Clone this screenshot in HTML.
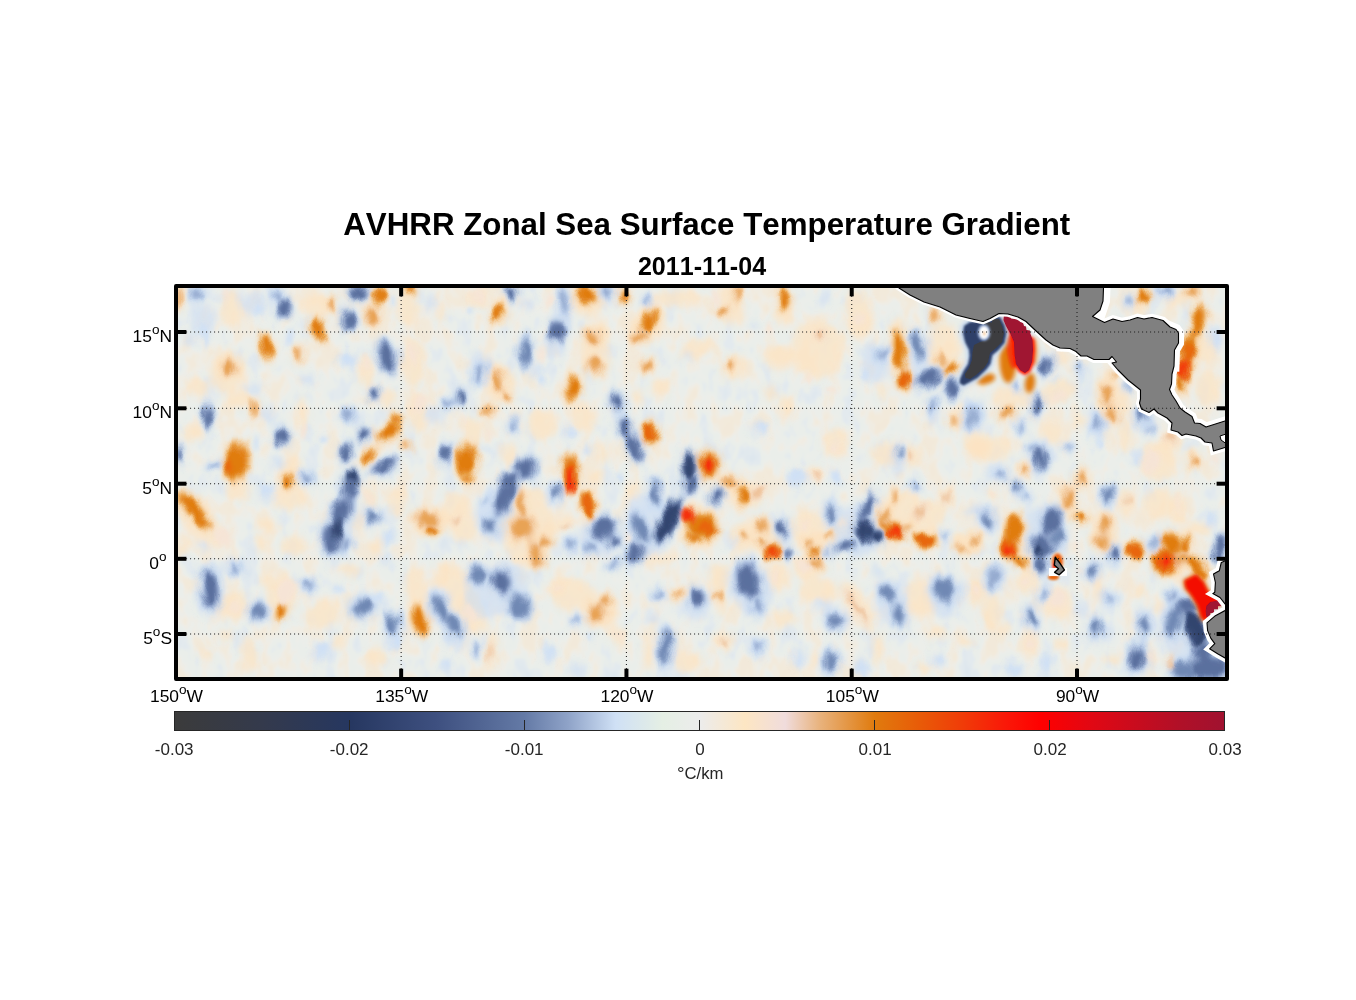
<!DOCTYPE html>
<html lang="en"><head><meta charset="utf-8"><title>AVHRR Zonal Sea Surface Temperature Gradient</title>
<style>html,body{margin:0;padding:0;background:#fff}body{width:1356px;height:1000px;overflow:hidden;font-family:"Liberation Sans",Arial,sans-serif}svg{display:block}text{font-family:"Liberation Sans",Arial,sans-serif;font-kerning:none}</style>
</head><body>
<svg width="1356" height="1000" viewBox="0 0 1356 1000">
<defs>
<clipPath id="ax"><rect x="178" y="288" width="1047" height="389"/></clipPath>
<filter id="b0_6" x="-50%" y="-50%" width="200%" height="200%"><feGaussianBlur stdDeviation="0.6"/></filter>
<filter id="b1" x="-50%" y="-50%" width="200%" height="200%"><feGaussianBlur stdDeviation="1"/></filter>
<filter id="b1_5" x="-50%" y="-50%" width="200%" height="200%"><feGaussianBlur stdDeviation="1.5"/></filter>
<filter id="b2" x="-50%" y="-50%" width="200%" height="200%"><feGaussianBlur stdDeviation="2"/></filter>
<filter id="b2_5" x="-50%" y="-50%" width="200%" height="200%"><feGaussianBlur stdDeviation="2.5"/></filter>
<filter id="b3" x="-50%" y="-50%" width="200%" height="200%"><feGaussianBlur stdDeviation="3"/></filter>
<filter id="b4" x="-50%" y="-50%" width="200%" height="200%"><feGaussianBlur stdDeviation="4"/></filter>
<filter id="b6" x="-50%" y="-50%" width="200%" height="200%"><feGaussianBlur stdDeviation="6"/></filter>
<filter id="b8" x="-50%" y="-50%" width="200%" height="200%"><feGaussianBlur stdDeviation="8"/></filter>
<filter id="warp" filterUnits="userSpaceOnUse" x="170" y="280" width="1064" height="404"><feTurbulence type="fractalNoise" baseFrequency="0.075 0.045" numOctaves="2" seed="7" result="n"/><feDisplacementMap in="SourceGraphic" in2="n" scale="11" xChannelSelector="R" yChannelSelector="G"/></filter>
<filter id="tex" filterUnits="userSpaceOnUse" x="170" y="280" width="1064" height="404" color-interpolation-filters="sRGB"><feTurbulence type="fractalNoise" baseFrequency="0.05 0.032" numOctaves="3" seed="11"/><feColorMatrix type="matrix" values="1 0 0 0 0  1 0 0 0 0  1 0 0 0 0  0 0 0 0 1"/><feComponentTransfer><feFuncR type="table" tableValues="0.78 0.78 0.81 0.85 0.905 0.925 0.975 0.992 0.992 0.992 0.992"/><feFuncG type="table" tableValues="0.86 0.86 0.88 0.905 0.935 0.937 0.925 0.90 0.89 0.89 0.89"/><feFuncB type="table" tableValues="0.95 0.95 0.96 0.955 0.92 0.92 0.85 0.77 0.75 0.75 0.75"/></feComponentTransfer></filter>
<linearGradient id="cb" x1="0" y1="0" x2="1" y2="0">
<stop offset="0.0000" stop-color="#3b3b3b"/>
<stop offset="0.0833" stop-color="#343a4c"/>
<stop offset="0.1667" stop-color="#263760"/>
<stop offset="0.2500" stop-color="#3e5080"/>
<stop offset="0.3333" stop-color="#647aa6"/>
<stop offset="0.3750" stop-color="#8fa3c8"/>
<stop offset="0.4200" stop-color="#cfe0f5"/>
<stop offset="0.4650" stop-color="#e5efe4"/>
<stop offset="0.5000" stop-color="#ececec"/>
<stop offset="0.5433" stop-color="#fde6c3"/>
<stop offset="0.5817" stop-color="#f0dcdc"/>
<stop offset="0.6150" stop-color="#e8b27c"/>
<stop offset="0.6667" stop-color="#e07b0e"/>
<stop offset="0.7083" stop-color="#e85c08"/>
<stop offset="0.7500" stop-color="#f03c08"/>
<stop offset="0.7917" stop-color="#fa1808"/>
<stop offset="0.8250" stop-color="#ff0000"/>
<stop offset="0.8750" stop-color="#e00814"/>
<stop offset="0.9167" stop-color="#c80c1e"/>
<stop offset="0.9583" stop-color="#b01028"/>
<stop offset="1.0000" stop-color="#a01230"/>
</linearGradient>
</defs>
<rect width="1356" height="1000" fill="#fff"/>
<g clip-path="url(#ax)">
<rect x="178" y="288" width="1047" height="389" fill="#eceeeb"/>
<rect x="170" y="280" width="1064" height="404" filter="url(#tex)" opacity="0.38"/>
<g filter="url(#warp)">
<g filter="url(#b3)">
<ellipse cx="232.0" cy="308.0" rx="12.0" ry="18.0" fill="#fde3bf" opacity="0.68"/>
<ellipse cx="318.0" cy="306.0" rx="16.0" ry="12.0" fill="#fde3bf" opacity="0.68"/>
<ellipse cx="228.0" cy="372.0" rx="18.0" ry="22.0" fill="#fde3bf" opacity="0.68"/>
<ellipse cx="198.0" cy="388.0" rx="12.0" ry="10.0" fill="#fde3bf" opacity="0.68"/>
<ellipse cx="238.0" cy="400.0" rx="12.0" ry="8.0" fill="#fde3bf" opacity="0.68"/>
<ellipse cx="414.0" cy="364.0" rx="12.0" ry="24.0" fill="#fde3bf" opacity="0.68"/>
<ellipse cx="418.0" cy="412.0" rx="10.0" ry="20.0" fill="#fde3bf" opacity="0.68"/>
<ellipse cx="302.0" cy="416.0" rx="6.0" ry="16.0" fill="#fde3bf" opacity="0.68"/>
<ellipse cx="366.0" cy="372.0" rx="8.0" ry="16.0" fill="#fde3bf" opacity="0.68"/>
<ellipse cx="290.0" cy="468.0" rx="10.0" ry="14.0" fill="#fde3bf" opacity="0.68"/>
<ellipse cx="192.0" cy="434.0" rx="10.0" ry="8.0" fill="#fde3bf" opacity="0.68"/>
<ellipse cx="388.0" cy="400.0" rx="8.0" ry="8.0" fill="#fde3bf" opacity="0.68"/>
<ellipse cx="408.0" cy="308.0" rx="10.0" ry="20.0" fill="#fde3bf" opacity="0.68"/>
<ellipse cx="442.0" cy="312.0" rx="4.0" ry="10.0" fill="#fde3bf" opacity="0.68"/>
<ellipse cx="204.0" cy="320.0" rx="12.0" ry="16.0" fill="#cbddf3" opacity="0.62"/>
<ellipse cx="254.0" cy="304.0" rx="14.0" ry="12.0" fill="#cbddf3" opacity="0.62"/>
<ellipse cx="348.0" cy="360.0" rx="10.0" ry="8.0" fill="#cbddf3" opacity="0.62"/>
<ellipse cx="308.0" cy="380.0" rx="8.0" ry="6.0" fill="#cbddf3" opacity="0.62"/>
<ellipse cx="268.0" cy="414.0" rx="8.0" ry="8.0" fill="#cbddf3" opacity="0.62"/>
<ellipse cx="434.0" cy="416.0" rx="8.0" ry="8.0" fill="#cbddf3" opacity="0.62"/>
<ellipse cx="254.0" cy="388.0" rx="8.0" ry="5.0" fill="#cbddf3" opacity="0.62"/>
<ellipse cx="278.0" cy="464.0" rx="8.0" ry="6.0" fill="#cbddf3" opacity="0.62"/>
<ellipse cx="190.0" cy="338.0" rx="6.0" ry="8.0" fill="#cbddf3" opacity="0.62"/>
<ellipse cx="430.0" cy="304.0" rx="6.0" ry="8.0" fill="#cbddf3" opacity="0.62"/>
<ellipse cx="379.6" cy="296.0" rx="9.1" ry="12.5" fill="#fbdcb4" transform="rotate(15 379.6 296.0)" opacity="0.9"/>
<ellipse cx="372.0" cy="316.0" rx="11.1" ry="11.5" fill="#fbdcb4" opacity="0.9"/>
<ellipse cx="317.4" cy="329.0" rx="9.5" ry="14.5" fill="#fbdcb4" transform="rotate(-5 317.4 329.0)" opacity="0.9"/>
<ellipse cx="267.0" cy="346.0" rx="8.5" ry="15.5" fill="#fbdcb4" transform="rotate(-5 267.0 346.0)" opacity="0.9"/>
<ellipse cx="298.6" cy="352.0" rx="6.5" ry="11.5" fill="#fbdcb4" transform="rotate(5 298.6 352.0)" opacity="0.9"/>
<ellipse cx="229.0" cy="368.0" rx="11.1" ry="12.5" fill="#fbdcb4" opacity="0.9"/>
<ellipse cx="254.0" cy="408.0" rx="6.3" ry="12.5" fill="#fbdcb4" opacity="0.9"/>
<ellipse cx="236.0" cy="462.0" rx="16.5" ry="22.5" fill="#fbdcb4" transform="rotate(10 236.0 462.0)" opacity="0.9"/>
<ellipse cx="229.0" cy="466.0" rx="8.5" ry="9.5" fill="#fbdcb4" opacity="0.9"/>
<ellipse cx="388.0" cy="432.0" rx="16.5" ry="10.5" fill="#fbdcb4" transform="rotate(-25 388.0 432.0)" opacity="0.9"/>
<ellipse cx="397.0" cy="420.0" rx="6.5" ry="11.5" fill="#fbdcb4" transform="rotate(10 397.0 420.0)" opacity="0.9"/>
<ellipse cx="370.0" cy="455.0" rx="13.5" ry="7.1" fill="#fbdcb4" transform="rotate(-45 370.0 455.0)" opacity="0.9"/>
<ellipse cx="406.0" cy="445.0" rx="8.5" ry="5.5" fill="#fbdcb4" transform="rotate(15 406.0 445.0)" opacity="0.9"/>
<ellipse cx="289.0" cy="480.0" rx="8.5" ry="10.5" fill="#fbdcb4" transform="rotate(20 289.0 480.0)" opacity="0.9"/>
<ellipse cx="410.0" cy="289.0" rx="9.5" ry="6.5" fill="#fbdcb4" opacity="0.9"/>
<ellipse cx="333.0" cy="304.0" rx="6.5" ry="11.5" fill="#fbdcb4" transform="rotate(5 333.0 304.0)" opacity="0.9"/>
<ellipse cx="179.0" cy="298.0" rx="5.9" ry="11.5" fill="#fbdcb4" opacity="0.9"/>
<ellipse cx="196.0" cy="294.0" rx="8.5" ry="9.5" fill="#c4d8f1" opacity="0.9"/>
<ellipse cx="284.0" cy="308.0" rx="10.5" ry="12.5" fill="#c4d8f1" transform="rotate(10 284.0 308.0)" opacity="0.9"/>
<ellipse cx="278.0" cy="296.0" rx="7.1" ry="9.5" fill="#c4d8f1" transform="rotate(-20 278.0 296.0)" opacity="0.9"/>
<ellipse cx="359.0" cy="293.0" rx="13.5" ry="10.5" fill="#c4d8f1" opacity="0.9"/>
<ellipse cx="348.0" cy="320.0" rx="9.5" ry="13.5" fill="#c4d8f1" opacity="0.9"/>
<ellipse cx="387.0" cy="356.0" rx="12.5" ry="19.5" fill="#c4d8f1" transform="rotate(-15 387.0 356.0)" opacity="0.9"/>
<ellipse cx="374.0" cy="393.0" rx="7.5" ry="9.5" fill="#c4d8f1" transform="rotate(10 374.0 393.0)" opacity="0.9"/>
<ellipse cx="208.0" cy="417.0" rx="7.5" ry="17.5" fill="#c4d8f1" transform="rotate(-5 208.0 417.0)" opacity="0.9"/>
<ellipse cx="281.0" cy="437.0" rx="10.5" ry="11.5" fill="#c4d8f1" transform="rotate(-20 281.0 437.0)" opacity="0.9"/>
<ellipse cx="363.0" cy="435.0" rx="9.1" ry="10.5" fill="#c4d8f1" transform="rotate(20 363.0 435.0)" opacity="0.9"/>
<ellipse cx="346.0" cy="452.0" rx="9.1" ry="12.5" fill="#c4d8f1" opacity="0.9"/>
<ellipse cx="384.0" cy="466.0" rx="17.5" ry="8.5" fill="#c4d8f1" transform="rotate(-30 384.0 466.0)" opacity="0.9"/>
<ellipse cx="352.0" cy="480.0" rx="11.5" ry="12.5" fill="#c4d8f1" opacity="0.9"/>
<ellipse cx="349.0" cy="416.0" rx="9.5" ry="9.5" fill="#c4d8f1" opacity="0.9"/>
<ellipse cx="308.0" cy="477.0" rx="9.5" ry="7.5" fill="#c4d8f1" opacity="0.9"/>
<ellipse cx="445.0" cy="454.0" rx="7.5" ry="13.5" fill="#c4d8f1" opacity="0.9"/>
<ellipse cx="214.0" cy="466.0" rx="6.5" ry="6.5" fill="#c4d8f1" opacity="0.9"/>
<ellipse cx="179.0" cy="454.0" rx="5.9" ry="12.5" fill="#c4d8f1" opacity="0.9"/>
<ellipse cx="446.0" cy="404.0" rx="6.5" ry="7.5" fill="#c4d8f1" opacity="0.9"/>
<ellipse cx="500.0" cy="312.0" rx="11.0" ry="14.0" fill="#fde3bf" opacity="0.68"/>
<ellipse cx="478.0" cy="298.0" rx="10.0" ry="10.0" fill="#fde3bf" opacity="0.68"/>
<ellipse cx="588.0" cy="300.0" rx="18.0" ry="16.0" fill="#fde3bf" opacity="0.68"/>
<ellipse cx="648.0" cy="324.0" rx="16.0" ry="22.0" fill="#fde3bf" transform="rotate(30 648.0 324.0)" opacity="0.68"/>
<ellipse cx="678.0" cy="298.0" rx="24.0" ry="8.0" fill="#fde3bf" opacity="0.68"/>
<ellipse cx="698.0" cy="348.0" rx="20.0" ry="8.0" fill="#fde3bf" transform="rotate(-20 698.0 348.0)" opacity="0.68"/>
<ellipse cx="594.0" cy="348.0" rx="16.0" ry="28.0" fill="#fde3bf" opacity="0.68"/>
<ellipse cx="500.0" cy="384.0" rx="14.0" ry="22.0" fill="#fde3bf" transform="rotate(-20 500.0 384.0)" opacity="0.68"/>
<ellipse cx="542.0" cy="424.0" rx="16.0" ry="14.0" fill="#fde3bf" transform="rotate(-30 542.0 424.0)" opacity="0.68"/>
<ellipse cx="584.0" cy="418.0" rx="12.0" ry="16.0" fill="#fde3bf" opacity="0.68"/>
<ellipse cx="660.0" cy="388.0" rx="8.0" ry="10.0" fill="#fde3bf" opacity="0.68"/>
<ellipse cx="638.0" cy="396.0" rx="6.0" ry="8.0" fill="#fde3bf" opacity="0.68"/>
<ellipse cx="472.0" cy="432.0" rx="10.0" ry="16.0" fill="#fde3bf" opacity="0.68"/>
<ellipse cx="604.0" cy="454.0" rx="6.0" ry="12.0" fill="#fde3bf" opacity="0.68"/>
<ellipse cx="508.0" cy="454.0" rx="8.0" ry="10.0" fill="#fde3bf" opacity="0.68"/>
<ellipse cx="650.0" cy="432.0" rx="10.0" ry="14.0" fill="#fde3bf" opacity="0.68"/>
<ellipse cx="596.0" cy="476.0" rx="8.0" ry="8.0" fill="#fde3bf" opacity="0.68"/>
<ellipse cx="528.0" cy="304.0" rx="8.0" ry="6.0" fill="#cbddf3" opacity="0.62"/>
<ellipse cx="480.0" cy="368.0" rx="12.0" ry="16.0" fill="#cbddf3" opacity="0.62"/>
<ellipse cx="564.0" cy="314.0" rx="8.0" ry="20.0" fill="#cbddf3" opacity="0.62"/>
<ellipse cx="554.0" cy="344.0" rx="10.0" ry="16.0" fill="#cbddf3" opacity="0.62"/>
<ellipse cx="648.0" cy="300.0" rx="6.0" ry="6.0" fill="#cbddf3" opacity="0.62"/>
<ellipse cx="536.0" cy="372.0" rx="6.0" ry="8.0" fill="#cbddf3" opacity="0.62"/>
<ellipse cx="618.0" cy="408.0" rx="8.0" ry="12.0" fill="#cbddf3" opacity="0.62"/>
<ellipse cx="568.0" cy="432.0" rx="6.0" ry="6.0" fill="#cbddf3" opacity="0.62"/>
<ellipse cx="688.0" cy="356.0" rx="4.0" ry="4.0" fill="#cbddf3" opacity="0.62"/>
<ellipse cx="498.0" cy="313.0" rx="9.1" ry="11.5" fill="#fbdcb4" opacity="0.9"/>
<ellipse cx="586.0" cy="295.0" rx="12.5" ry="13.5" fill="#fbdcb4" transform="rotate(20 586.0 295.0)" opacity="0.9"/>
<ellipse cx="623.0" cy="296.0" rx="7.5" ry="10.5" fill="#fbdcb4" opacity="0.9"/>
<ellipse cx="649.0" cy="321.0" rx="9.5" ry="15.5" fill="#fbdcb4" transform="rotate(25 649.0 321.0)" opacity="0.9"/>
<ellipse cx="638.0" cy="337.0" rx="11.5" ry="7.5" fill="#fbdcb4" transform="rotate(-20 638.0 337.0)" opacity="0.9"/>
<ellipse cx="592.0" cy="337.0" rx="10.5" ry="11.5" fill="#fbdcb4" transform="rotate(-30 592.0 337.0)" opacity="0.9"/>
<ellipse cx="595.0" cy="366.0" rx="11.5" ry="11.5" fill="#fbdcb4" opacity="0.9"/>
<ellipse cx="648.0" cy="365.0" rx="10.5" ry="8.5" fill="#fbdcb4" transform="rotate(-30 648.0 365.0)" opacity="0.9"/>
<ellipse cx="573.0" cy="388.0" rx="10.5" ry="16.5" fill="#fbdcb4" transform="rotate(10 573.0 388.0)" opacity="0.9"/>
<ellipse cx="498.0" cy="380.0" rx="8.5" ry="13.5" fill="#fbdcb4" transform="rotate(-20 498.0 380.0)" opacity="0.9"/>
<ellipse cx="506.0" cy="396.0" rx="7.5" ry="8.5" fill="#fbdcb4" opacity="0.9"/>
<ellipse cx="488.0" cy="410.0" rx="8.5" ry="7.5" fill="#fbdcb4" opacity="0.9"/>
<ellipse cx="650.4" cy="433.0" rx="10.5" ry="13.5" fill="#fbdcb4" opacity="0.9"/>
<ellipse cx="467.0" cy="460.0" rx="13.1" ry="20.5" fill="#fbdcb4" transform="rotate(5 467.0 460.0)" opacity="0.9"/>
<ellipse cx="571.0" cy="474.0" rx="11.9" ry="22.5" fill="#fbdcb4" opacity="0.9"/>
<ellipse cx="571.0" cy="478.0" rx="8.7" ry="20.5" fill="#fbdcb4" opacity="0.9"/>
<ellipse cx="709.0" cy="464.0" rx="13.1" ry="17.9" fill="#fbdcb4" opacity="0.9"/>
<ellipse cx="709.0" cy="464.0" rx="9.9" ry="13.9" fill="#fbdcb4" opacity="0.9"/>
<ellipse cx="511.0" cy="292.0" rx="9.1" ry="9.5" fill="#c4d8f1" opacity="0.9"/>
<ellipse cx="564.0" cy="300.0" rx="7.1" ry="17.5" fill="#c4d8f1" transform="rotate(-5 564.0 300.0)" opacity="0.9"/>
<ellipse cx="557.0" cy="331.0" rx="11.5" ry="14.5" fill="#c4d8f1" opacity="0.9"/>
<ellipse cx="606.0" cy="292.0" rx="8.5" ry="9.5" fill="#c4d8f1" opacity="0.9"/>
<ellipse cx="525.0" cy="352.0" rx="9.1" ry="18.5" fill="#c4d8f1" transform="rotate(5 525.0 352.0)" opacity="0.9"/>
<ellipse cx="479.0" cy="373.0" rx="7.5" ry="14.5" fill="#c4d8f1" transform="rotate(20 479.0 373.0)" opacity="0.9"/>
<ellipse cx="461.0" cy="399.0" rx="7.5" ry="11.5" fill="#c4d8f1" opacity="0.9"/>
<ellipse cx="451.0" cy="403.0" rx="6.5" ry="6.5" fill="#c4d8f1" opacity="0.9"/>
<ellipse cx="616.6" cy="400.0" rx="9.1" ry="11.5" fill="#c4d8f1" opacity="0.9"/>
<ellipse cx="514.0" cy="426.0" rx="6.5" ry="9.5" fill="#c4d8f1" opacity="0.9"/>
<ellipse cx="525.0" cy="467.0" rx="13.5" ry="13.5" fill="#c4d8f1" transform="rotate(-20 525.0 467.0)" opacity="0.9"/>
<ellipse cx="510.0" cy="480.0" rx="13.5" ry="8.5" fill="#c4d8f1" transform="rotate(-25 510.0 480.0)" opacity="0.9"/>
<ellipse cx="625.0" cy="428.0" rx="9.1" ry="15.5" fill="#c4d8f1" transform="rotate(-10 625.0 428.0)" opacity="0.9"/>
<ellipse cx="634.0" cy="448.0" rx="10.5" ry="17.5" fill="#c4d8f1" transform="rotate(-15 634.0 448.0)" opacity="0.9"/>
<ellipse cx="689.0" cy="466.0" rx="9.9" ry="18.5" fill="#c4d8f1" transform="rotate(-5 689.0 466.0)" opacity="0.9"/>
<ellipse cx="693.0" cy="482.0" rx="9.5" ry="9.5" fill="#c4d8f1" opacity="0.9"/>
<ellipse cx="647.0" cy="300.0" rx="6.5" ry="6.5" fill="#c4d8f1" opacity="0.9"/>
<ellipse cx="449.0" cy="452.0" rx="5.9" ry="9.5" fill="#c4d8f1" opacity="0.9"/>
<ellipse cx="656.0" cy="483.0" rx="7.5" ry="6.5" fill="#c4d8f1" opacity="0.9"/>
<ellipse cx="730.0" cy="304.0" rx="14.0" ry="22.0" fill="#fde3bf" opacity="0.68"/>
<ellipse cx="784.0" cy="306.0" rx="10.0" ry="20.0" fill="#fde3bf" opacity="0.68"/>
<ellipse cx="858.0" cy="314.0" rx="14.0" ry="26.0" fill="#fde3bf" opacity="0.68"/>
<ellipse cx="818.0" cy="348.0" rx="26.0" ry="30.0" fill="#fde3bf" opacity="0.68"/>
<ellipse cx="734.0" cy="368.0" rx="12.0" ry="14.0" fill="#fde3bf" opacity="0.68"/>
<ellipse cx="778.0" cy="358.0" rx="16.0" ry="12.0" fill="#fde3bf" opacity="0.68"/>
<ellipse cx="898.0" cy="348.0" rx="10.0" ry="32.0" fill="#fde3bf" opacity="0.68"/>
<ellipse cx="944.0" cy="348.0" rx="16.0" ry="26.0" fill="#fde3bf" opacity="0.68"/>
<ellipse cx="786.0" cy="408.0" rx="8.0" ry="12.0" fill="#fde3bf" opacity="0.68"/>
<ellipse cx="836.0" cy="444.0" rx="12.0" ry="14.0" fill="#fde3bf" opacity="0.68"/>
<ellipse cx="888.0" cy="454.0" rx="16.0" ry="12.0" fill="#fde3bf" opacity="0.68"/>
<ellipse cx="914.0" cy="456.0" rx="10.0" ry="12.0" fill="#fde3bf" opacity="0.68"/>
<ellipse cx="958.0" cy="418.0" rx="8.0" ry="14.0" fill="#fde3bf" opacity="0.68"/>
<ellipse cx="978.0" cy="444.0" rx="12.0" ry="16.0" fill="#fde3bf" opacity="0.68"/>
<ellipse cx="814.0" cy="474.0" rx="8.0" ry="8.0" fill="#fde3bf" opacity="0.68"/>
<ellipse cx="772.0" cy="392.0" rx="6.0" ry="8.0" fill="#fde3bf" opacity="0.68"/>
<ellipse cx="882.0" cy="392.0" rx="4.0" ry="8.0" fill="#fde3bf" opacity="0.68"/>
<ellipse cx="874.0" cy="364.0" rx="14.0" ry="20.0" fill="#cbddf3" opacity="0.62"/>
<ellipse cx="918.0" cy="354.0" rx="10.0" ry="22.0" fill="#cbddf3" opacity="0.62"/>
<ellipse cx="934.0" cy="412.0" rx="8.0" ry="14.0" fill="#cbddf3" opacity="0.62"/>
<ellipse cx="970.0" cy="416.0" rx="8.0" ry="14.0" fill="#cbddf3" opacity="0.62"/>
<ellipse cx="898.0" cy="460.0" rx="6.0" ry="16.0" fill="#cbddf3" opacity="0.62"/>
<ellipse cx="798.0" cy="478.0" rx="10.0" ry="8.0" fill="#cbddf3" opacity="0.62"/>
<ellipse cx="758.0" cy="428.0" rx="8.0" ry="8.0" fill="#cbddf3" opacity="0.62"/>
<ellipse cx="824.0" cy="298.0" rx="4.0" ry="4.0" fill="#cbddf3" opacity="0.62"/>
<ellipse cx="754.0" cy="326.0" rx="4.0" ry="4.0" fill="#cbddf3" opacity="0.62"/>
<ellipse cx="784.0" cy="299.0" rx="7.9" ry="14.5" fill="#fbdcb4" transform="rotate(-5 784.0 299.0)" opacity="0.9"/>
<ellipse cx="736.0" cy="294.0" rx="6.5" ry="11.5" fill="#fbdcb4" transform="rotate(20 736.0 294.0)" opacity="0.9"/>
<ellipse cx="723.0" cy="312.0" rx="8.5" ry="8.5" fill="#fbdcb4" opacity="0.9"/>
<ellipse cx="731.0" cy="365.0" rx="7.5" ry="8.5" fill="#fbdcb4" opacity="0.9"/>
<ellipse cx="899.0" cy="350.0" rx="9.9" ry="23.5" fill="#fbdcb4" transform="rotate(-8 899.0 350.0)" opacity="0.9"/>
<ellipse cx="904.0" cy="380.0" rx="9.5" ry="13.1" fill="#fbdcb4" opacity="0.9"/>
<ellipse cx="935.0" cy="314.0" rx="7.1" ry="9.5" fill="#fbdcb4" transform="rotate(10 935.0 314.0)" opacity="0.9"/>
<ellipse cx="952.0" cy="369.0" rx="12.5" ry="7.1" fill="#fbdcb4" transform="rotate(-30 952.0 369.0)" opacity="0.9"/>
<ellipse cx="942.0" cy="360.0" rx="10.5" ry="5.9" fill="#fbdcb4" transform="rotate(40 942.0 360.0)" opacity="0.9"/>
<ellipse cx="954.0" cy="420.0" rx="5.9" ry="8.5" fill="#fbdcb4" opacity="0.9"/>
<ellipse cx="882.0" cy="354.0" rx="7.1" ry="10.5" fill="#c4d8f1" transform="rotate(25 882.0 354.0)" opacity="0.9"/>
<ellipse cx="918.0" cy="346.0" rx="8.5" ry="17.5" fill="#c4d8f1" transform="rotate(-15 918.0 346.0)" opacity="0.9"/>
<ellipse cx="928.0" cy="378.0" rx="18.5" ry="10.5" fill="#c4d8f1" transform="rotate(-35 928.0 378.0)" opacity="0.9"/>
<ellipse cx="951.0" cy="388.0" rx="11.5" ry="11.5" fill="#c4d8f1" opacity="0.9"/>
<ellipse cx="933.0" cy="405.0" rx="6.5" ry="10.5" fill="#c4d8f1" opacity="0.9"/>
<ellipse cx="971.0" cy="418.0" rx="7.1" ry="14.5" fill="#c4d8f1" transform="rotate(25 971.0 418.0)" opacity="0.9"/>
<ellipse cx="899.0" cy="452.0" rx="5.9" ry="8.5" fill="#c4d8f1" transform="rotate(20 899.0 452.0)" opacity="0.9"/>
<ellipse cx="1058.0" cy="392.0" rx="20.0" ry="12.0" fill="#fde3bf" transform="rotate(-20 1058.0 392.0)" opacity="0.68"/>
<ellipse cx="1014.0" cy="396.0" rx="20.0" ry="12.0" fill="#fde3bf" opacity="0.68"/>
<ellipse cx="1110.0" cy="400.0" rx="14.0" ry="26.0" fill="#fde3bf" transform="rotate(-10 1110.0 400.0)" opacity="0.68"/>
<ellipse cx="1078.0" cy="420.0" rx="6.0" ry="8.0" fill="#fde3bf" opacity="0.68"/>
<ellipse cx="1158.0" cy="460.0" rx="20.0" ry="20.0" fill="#fde3bf" opacity="0.68"/>
<ellipse cx="1194.0" cy="460.0" rx="10.0" ry="12.0" fill="#fde3bf" opacity="0.68"/>
<ellipse cx="1208.0" cy="388.0" rx="12.0" ry="20.0" fill="#fde3bf" opacity="0.68"/>
<ellipse cx="1206.0" cy="348.0" rx="10.0" ry="16.0" fill="#fde3bf" opacity="0.68"/>
<ellipse cx="1138.0" cy="306.0" rx="10.0" ry="10.0" fill="#fde3bf" opacity="0.68"/>
<ellipse cx="1178.0" cy="300.0" rx="16.0" ry="8.0" fill="#fde3bf" opacity="0.68"/>
<ellipse cx="1172.0" cy="440.0" rx="10.0" ry="10.0" fill="#fde3bf" opacity="0.68"/>
<ellipse cx="988.0" cy="448.0" rx="24.0" ry="12.0" fill="#fde3bf" opacity="0.68"/>
<ellipse cx="1054.0" cy="432.0" rx="12.0" ry="12.0" fill="#fde3bf" opacity="0.68"/>
<ellipse cx="1024.0" cy="468.0" rx="8.0" ry="8.0" fill="#fde3bf" opacity="0.68"/>
<ellipse cx="1082.0" cy="476.0" rx="8.0" ry="10.0" fill="#fde3bf" opacity="0.68"/>
<ellipse cx="1126.0" cy="436.0" rx="8.0" ry="16.0" fill="#fde3bf" opacity="0.68"/>
<ellipse cx="1058.0" cy="358.0" rx="12.0" ry="8.0" fill="#fde3bf" opacity="0.68"/>
<ellipse cx="974.0" cy="416.0" rx="12.0" ry="16.0" fill="#cbddf3" transform="rotate(25 974.0 416.0)" opacity="0.62"/>
<ellipse cx="1046.0" cy="364.0" rx="10.0" ry="14.0" fill="#cbddf3" transform="rotate(30 1046.0 364.0)" opacity="0.62"/>
<ellipse cx="1036.0" cy="406.0" rx="8.0" ry="14.0" fill="#cbddf3" opacity="0.62"/>
<ellipse cx="1098.0" cy="424.0" rx="10.0" ry="16.0" fill="#cbddf3" opacity="0.62"/>
<ellipse cx="1040.0" cy="456.0" rx="12.0" ry="18.0" fill="#cbddf3" opacity="0.62"/>
<ellipse cx="998.0" cy="472.0" rx="12.0" ry="10.0" fill="#cbddf3" opacity="0.62"/>
<ellipse cx="1142.0" cy="418.0" rx="12.0" ry="10.0" fill="#cbddf3" opacity="0.62"/>
<ellipse cx="1082.0" cy="372.0" rx="6.0" ry="12.0" fill="#cbddf3" opacity="0.62"/>
<ellipse cx="1018.0" cy="388.0" rx="6.0" ry="6.0" fill="#cbddf3" opacity="0.62"/>
<ellipse cx="1020.0" cy="426.0" rx="6.0" ry="8.0" fill="#cbddf3" opacity="0.62"/>
<ellipse cx="1128.0" cy="304.0" rx="6.0" ry="8.0" fill="#cbddf3" opacity="0.62"/>
<ellipse cx="1166.0" cy="294.0" rx="12.0" ry="6.0" fill="#cbddf3" opacity="0.62"/>
<ellipse cx="1216.0" cy="338.0" rx="6.0" ry="14.0" fill="#cbddf3" opacity="0.62"/>
<ellipse cx="1144.0" cy="297.0" rx="9.5" ry="10.5" fill="#fbdcb4" opacity="0.9"/>
<ellipse cx="1193.0" cy="292.0" rx="9.5" ry="8.5" fill="#fbdcb4" opacity="0.9"/>
<ellipse cx="1198.0" cy="322.0" rx="10.1" ry="21.5" fill="#fbdcb4" transform="rotate(15 1198.0 322.0)" opacity="0.9"/>
<ellipse cx="1190.0" cy="348.0" rx="10.1" ry="19.5" fill="#fbdcb4" transform="rotate(10 1190.0 348.0)" opacity="0.9"/>
<ellipse cx="1189.6" cy="352.0" rx="7.9" ry="15.5" fill="#fbdcb4" transform="rotate(10 1189.6 352.0)" opacity="0.9"/>
<ellipse cx="1184.0" cy="370.0" rx="9.5" ry="17.5" fill="#fbdcb4" transform="rotate(5 1184.0 370.0)" opacity="0.9"/>
<ellipse cx="1184.4" cy="369.0" rx="6.9" ry="15.9" fill="#fbdcb4" transform="rotate(8 1184.4 369.0)" opacity="0.9"/>
<ellipse cx="1180.0" cy="386.0" rx="7.5" ry="11.5" fill="#fbdcb4" opacity="0.9"/>
<ellipse cx="1107.0" cy="394.0" rx="9.1" ry="14.5" fill="#fbdcb4" transform="rotate(-10 1107.0 394.0)" opacity="0.9"/>
<ellipse cx="1113.0" cy="414.0" rx="7.9" ry="12.5" fill="#fbdcb4" transform="rotate(-15 1113.0 414.0)" opacity="0.9"/>
<ellipse cx="1006.0" cy="413.0" rx="11.5" ry="8.5" fill="#fbdcb4" transform="rotate(-25 1006.0 413.0)" opacity="0.9"/>
<ellipse cx="1195.0" cy="461.0" rx="7.5" ry="8.5" fill="#fbdcb4" opacity="0.9"/>
<ellipse cx="1025.0" cy="470.0" rx="6.5" ry="7.9" fill="#fbdcb4" opacity="0.9"/>
<ellipse cx="1081.0" cy="477.0" rx="7.5" ry="10.5" fill="#fbdcb4" transform="rotate(20 1081.0 477.0)" opacity="0.9"/>
<ellipse cx="1114.0" cy="374.0" rx="5.5" ry="6.5" fill="#fbdcb4" opacity="0.9"/>
<ellipse cx="1046.0" cy="365.0" rx="8.5" ry="12.5" fill="#c4d8f1" transform="rotate(30 1046.0 365.0)" opacity="0.9"/>
<ellipse cx="1036.0" cy="405.0" rx="7.9" ry="13.5" fill="#c4d8f1" transform="rotate(20 1036.0 405.0)" opacity="0.9"/>
<ellipse cx="971.0" cy="419.0" rx="8.5" ry="14.5" fill="#c4d8f1" transform="rotate(25 971.0 419.0)" opacity="0.9"/>
<ellipse cx="1098.0" cy="422.0" rx="8.5" ry="11.5" fill="#c4d8f1" transform="rotate(-10 1098.0 422.0)" opacity="0.9"/>
<ellipse cx="1142.0" cy="415.0" rx="9.5" ry="8.5" fill="#c4d8f1" transform="rotate(10 1142.0 415.0)" opacity="0.9"/>
<ellipse cx="1150.0" cy="428.0" rx="6.5" ry="5.5" fill="#c4d8f1" opacity="0.9"/>
<ellipse cx="1040.0" cy="458.0" rx="8.5" ry="15.5" fill="#c4d8f1" transform="rotate(-15 1040.0 458.0)" opacity="0.9"/>
<ellipse cx="1032.0" cy="448.0" rx="6.5" ry="7.5" fill="#c4d8f1" opacity="0.9"/>
<ellipse cx="1002.0" cy="475.0" rx="7.1" ry="8.5" fill="#c4d8f1" opacity="0.9"/>
<ellipse cx="1067.0" cy="448.0" rx="5.9" ry="6.5" fill="#c4d8f1" opacity="0.9"/>
<ellipse cx="1020.0" cy="426.0" rx="5.9" ry="8.5" fill="#c4d8f1" opacity="0.9"/>
<ellipse cx="1017.0" cy="386.0" rx="5.9" ry="6.5" fill="#c4d8f1" opacity="0.9"/>
<ellipse cx="1129.0" cy="301.0" rx="6.5" ry="7.5" fill="#c4d8f1" opacity="0.9"/>
<ellipse cx="1166.0" cy="292.0" rx="11.5" ry="7.5" fill="#c4d8f1" opacity="0.9"/>
<ellipse cx="1079.0" cy="368.0" rx="5.9" ry="7.5" fill="#c4d8f1" opacity="0.9"/>
<ellipse cx="1129.0" cy="388.0" rx="5.9" ry="6.5" fill="#c4d8f1" opacity="0.9"/>
<ellipse cx="198.0" cy="518.0" rx="16.0" ry="32.0" fill="#fde3bf" transform="rotate(-38 198.0 518.0)" opacity="0.68"/>
<ellipse cx="238.0" cy="490.0" rx="12.0" ry="10.0" fill="#fde3bf" opacity="0.68"/>
<ellipse cx="290.0" cy="498.0" rx="16.0" ry="12.0" fill="#fde3bf" opacity="0.68"/>
<ellipse cx="268.0" cy="526.0" rx="12.0" ry="6.0" fill="#fde3bf" opacity="0.68"/>
<ellipse cx="262.0" cy="544.0" rx="8.0" ry="8.0" fill="#fde3bf" opacity="0.68"/>
<ellipse cx="294.0" cy="546.0" rx="12.0" ry="10.0" fill="#fde3bf" opacity="0.68"/>
<ellipse cx="430.0" cy="522.0" rx="20.0" ry="16.0" fill="#fde3bf" opacity="0.68"/>
<ellipse cx="370.0" cy="498.0" rx="6.0" ry="12.0" fill="#fde3bf" opacity="0.68"/>
<ellipse cx="358.0" cy="522.0" rx="6.0" ry="12.0" fill="#fde3bf" opacity="0.68"/>
<ellipse cx="376.0" cy="546.0" rx="6.0" ry="8.0" fill="#fde3bf" opacity="0.68"/>
<ellipse cx="398.0" cy="502.0" rx="8.0" ry="16.0" fill="#fde3bf" opacity="0.68"/>
<ellipse cx="232.0" cy="606.0" rx="18.0" ry="12.0" fill="#fde3bf" transform="rotate(-30 232.0 606.0)" opacity="0.68"/>
<ellipse cx="282.0" cy="598.0" rx="14.0" ry="22.0" fill="#fde3bf" transform="rotate(15 282.0 598.0)" opacity="0.68"/>
<ellipse cx="322.0" cy="614.0" rx="18.0" ry="14.0" fill="#fde3bf" transform="rotate(-20 322.0 614.0)" opacity="0.68"/>
<ellipse cx="350.0" cy="570.0" rx="10.0" ry="6.0" fill="#fde3bf" opacity="0.68"/>
<ellipse cx="418.0" cy="602.0" rx="12.0" ry="36.0" fill="#fde3bf" transform="rotate(-10 418.0 602.0)" opacity="0.68"/>
<ellipse cx="250.0" cy="654.0" rx="8.0" ry="18.0" fill="#fde3bf" transform="rotate(-10 250.0 654.0)" opacity="0.68"/>
<ellipse cx="378.0" cy="656.0" rx="10.0" ry="10.0" fill="#fde3bf" opacity="0.68"/>
<ellipse cx="442.0" cy="574.0" rx="8.0" ry="12.0" fill="#fde3bf" opacity="0.68"/>
<ellipse cx="206.0" cy="654.0" rx="6.0" ry="6.0" fill="#fde3bf" opacity="0.68"/>
<ellipse cx="338.0" cy="642.0" rx="6.0" ry="8.0" fill="#fde3bf" opacity="0.68"/>
<ellipse cx="226.0" cy="636.0" rx="6.0" ry="6.0" fill="#fde3bf" opacity="0.68"/>
<ellipse cx="270.0" cy="582.0" rx="8.0" ry="10.0" fill="#fde3bf" opacity="0.68"/>
<ellipse cx="182.0" cy="546.0" rx="6.0" ry="10.0" fill="#fde3bf" opacity="0.68"/>
<ellipse cx="210.0" cy="590.0" rx="14.0" ry="28.0" fill="#cbddf3" opacity="0.62"/>
<ellipse cx="234.0" cy="566.0" rx="12.0" ry="8.0" fill="#cbddf3" opacity="0.62"/>
<ellipse cx="258.0" cy="612.0" rx="12.0" ry="12.0" fill="#cbddf3" opacity="0.62"/>
<ellipse cx="364.0" cy="606.0" rx="18.0" ry="14.0" fill="#cbddf3" opacity="0.62"/>
<ellipse cx="394.0" cy="630.0" rx="12.0" ry="18.0" fill="#cbddf3" opacity="0.62"/>
<ellipse cx="438.0" cy="606.0" rx="12.0" ry="20.0" fill="#cbddf3" opacity="0.62"/>
<ellipse cx="338.0" cy="528.0" rx="18.0" ry="32.0" fill="#cbddf3" transform="rotate(20 338.0 528.0)" opacity="0.62"/>
<ellipse cx="266.0" cy="492.0" rx="8.0" ry="10.0" fill="#cbddf3" opacity="0.62"/>
<ellipse cx="388.0" cy="538.0" rx="8.0" ry="8.0" fill="#cbddf3" opacity="0.62"/>
<ellipse cx="308.0" cy="586.0" rx="10.0" ry="8.0" fill="#cbddf3" opacity="0.62"/>
<ellipse cx="322.0" cy="652.0" rx="10.0" ry="10.0" fill="#cbddf3" opacity="0.62"/>
<ellipse cx="204.0" cy="546.0" rx="8.0" ry="4.0" fill="#cbddf3" opacity="0.62"/>
<ellipse cx="386.0" cy="558.0" rx="6.0" ry="6.0" fill="#cbddf3" opacity="0.62"/>
<ellipse cx="334.0" cy="564.0" rx="4.0" ry="4.0" fill="#cbddf3" opacity="0.62"/>
<ellipse cx="194.0" cy="510.0" rx="9.9" ry="28.5" fill="#fbdcb4" transform="rotate(-38 194.0 510.0)" opacity="0.9"/>
<ellipse cx="428.0" cy="519.0" rx="16.5" ry="11.5" fill="#fbdcb4" transform="rotate(15 428.0 519.0)" opacity="0.9"/>
<ellipse cx="432.0" cy="531.0" rx="9.5" ry="7.5" fill="#fbdcb4" opacity="0.9"/>
<ellipse cx="281.0" cy="612.0" rx="8.5" ry="11.5" fill="#fbdcb4" transform="rotate(15 281.0 612.0)" opacity="0.9"/>
<ellipse cx="419.0" cy="620.0" rx="9.9" ry="18.5" fill="#fbdcb4" transform="rotate(-15 419.0 620.0)" opacity="0.9"/>
<ellipse cx="350.0" cy="489.0" rx="9.9" ry="15.1" fill="#c4d8f1" opacity="0.9"/>
<ellipse cx="340.4" cy="514.0" rx="11.9" ry="23.1" fill="#c4d8f1" transform="rotate(22 340.4 514.0)" opacity="0.9"/>
<ellipse cx="332.0" cy="538.0" rx="13.1" ry="19.1" fill="#c4d8f1" transform="rotate(8 332.0 538.0)" opacity="0.9"/>
<ellipse cx="336.0" cy="528.0" rx="8.5" ry="15.5" fill="#c4d8f1" transform="rotate(15 336.0 528.0)" opacity="0.9"/>
<ellipse cx="346.0" cy="544.0" rx="9.5" ry="9.5" fill="#c4d8f1" opacity="0.9"/>
<ellipse cx="373.0" cy="517.0" rx="9.5" ry="9.5" fill="#c4d8f1" transform="rotate(30 373.0 517.0)" opacity="0.9"/>
<ellipse cx="210.0" cy="590.0" rx="11.9" ry="24.5" fill="#c4d8f1" transform="rotate(-3 210.0 590.0)" opacity="0.9"/>
<ellipse cx="235.0" cy="569.0" rx="8.5" ry="7.5" fill="#c4d8f1" opacity="0.9"/>
<ellipse cx="308.0" cy="585.0" rx="9.5" ry="7.9" fill="#c4d8f1" transform="rotate(10 308.0 585.0)" opacity="0.9"/>
<ellipse cx="257.0" cy="612.0" rx="10.5" ry="11.5" fill="#c4d8f1" transform="rotate(25 257.0 612.0)" opacity="0.9"/>
<ellipse cx="363.0" cy="608.0" rx="14.5" ry="12.5" fill="#c4d8f1" transform="rotate(-10 363.0 608.0)" opacity="0.9"/>
<ellipse cx="392.0" cy="624.0" rx="10.5" ry="13.5" fill="#c4d8f1" transform="rotate(15 392.0 624.0)" opacity="0.9"/>
<ellipse cx="441.0" cy="608.0" rx="10.5" ry="17.5" fill="#c4d8f1" transform="rotate(-25 441.0 608.0)" opacity="0.9"/>
<ellipse cx="308.0" cy="479.0" rx="8.5" ry="5.9" fill="#c4d8f1" opacity="0.9"/>
<ellipse cx="460.0" cy="518.0" rx="14.0" ry="26.0" fill="#fde3bf" transform="rotate(-20 460.0 518.0)" opacity="0.68"/>
<ellipse cx="528.0" cy="528.0" rx="26.0" ry="40.0" fill="#fde3bf" opacity="0.68"/>
<ellipse cx="558.0" cy="524.0" rx="16.0" ry="8.0" fill="#fde3bf" transform="rotate(-20 558.0 524.0)" opacity="0.68"/>
<ellipse cx="588.0" cy="506.0" rx="10.0" ry="18.0" fill="#fde3bf" opacity="0.68"/>
<ellipse cx="700.0" cy="526.0" rx="22.0" ry="22.0" fill="#fde3bf" opacity="0.68"/>
<ellipse cx="634.0" cy="490.0" rx="6.0" ry="8.0" fill="#fde3bf" opacity="0.68"/>
<ellipse cx="464.0" cy="598.0" rx="14.0" ry="40.0" fill="#fde3bf" transform="rotate(-25 464.0 598.0)" opacity="0.68"/>
<ellipse cx="572.0" cy="594.0" rx="24.0" ry="16.0" fill="#fde3bf" transform="rotate(15 572.0 594.0)" opacity="0.68"/>
<ellipse cx="600.0" cy="612.0" rx="16.0" ry="18.0" fill="#fde3bf" transform="rotate(20 600.0 612.0)" opacity="0.68"/>
<ellipse cx="618.0" cy="634.0" rx="8.0" ry="10.0" fill="#fde3bf" opacity="0.68"/>
<ellipse cx="658.0" cy="558.0" rx="18.0" ry="5.0" fill="#fde3bf" opacity="0.68"/>
<ellipse cx="678.0" cy="594.0" rx="8.0" ry="8.0" fill="#fde3bf" opacity="0.68"/>
<ellipse cx="648.0" cy="654.0" rx="6.0" ry="16.0" fill="#fde3bf" opacity="0.68"/>
<ellipse cx="688.0" cy="662.0" rx="16.0" ry="10.0" fill="#fde3bf" opacity="0.68"/>
<ellipse cx="492.0" cy="650.0" rx="6.0" ry="20.0" fill="#fde3bf" opacity="0.68"/>
<ellipse cx="558.0" cy="586.0" rx="6.0" ry="10.0" fill="#fde3bf" opacity="0.68"/>
<ellipse cx="522.0" cy="576.0" rx="4.0" ry="6.0" fill="#fde3bf" opacity="0.68"/>
<ellipse cx="714.0" cy="578.0" rx="6.0" ry="12.0" fill="#fde3bf" opacity="0.68"/>
<ellipse cx="494.0" cy="514.0" rx="18.0" ry="28.0" fill="#cbddf3" opacity="0.62"/>
<ellipse cx="556.0" cy="494.0" rx="8.0" ry="14.0" fill="#cbddf3" opacity="0.62"/>
<ellipse cx="600.0" cy="536.0" rx="22.0" ry="20.0" fill="#cbddf3" opacity="0.62"/>
<ellipse cx="568.0" cy="546.0" rx="8.0" ry="8.0" fill="#cbddf3" opacity="0.62"/>
<ellipse cx="656.0" cy="496.0" rx="10.0" ry="16.0" fill="#cbddf3" opacity="0.62"/>
<ellipse cx="648.0" cy="524.0" rx="24.0" ry="32.0" fill="#cbddf3" opacity="0.62"/>
<ellipse cx="496.0" cy="590.0" rx="34.0" ry="26.0" fill="#cbddf3" transform="rotate(-30 496.0 590.0)" opacity="0.62"/>
<ellipse cx="456.0" cy="630.0" rx="12.0" ry="20.0" fill="#cbddf3" opacity="0.62"/>
<ellipse cx="697.0" cy="602.0" rx="14.0" ry="18.0" fill="#cbddf3" opacity="0.62"/>
<ellipse cx="666.0" cy="646.0" rx="10.0" ry="24.0" fill="#cbddf3" opacity="0.62"/>
<ellipse cx="658.0" cy="596.0" rx="10.0" ry="6.0" fill="#cbddf3" opacity="0.62"/>
<ellipse cx="576.0" cy="622.0" rx="6.0" ry="6.0" fill="#cbddf3" opacity="0.62"/>
<ellipse cx="548.0" cy="652.0" rx="6.0" ry="10.0" fill="#cbddf3" opacity="0.62"/>
<ellipse cx="652.0" cy="618.0" rx="8.0" ry="6.0" fill="#cbddf3" opacity="0.62"/>
<ellipse cx="486.0" cy="602.0" rx="4.0" ry="4.0" fill="#cbddf3" opacity="0.62"/>
<ellipse cx="576.0" cy="670.0" rx="8.0" ry="6.0" fill="#cbddf3" opacity="0.62"/>
<ellipse cx="468.0" cy="479.0" rx="7.5" ry="6.5" fill="#fbdcb4" opacity="0.9"/>
<ellipse cx="522.0" cy="528.0" rx="15.5" ry="17.5" fill="#fbdcb4" opacity="0.9"/>
<ellipse cx="522.0" cy="504.0" rx="7.5" ry="17.5" fill="#fbdcb4" opacity="0.9"/>
<ellipse cx="536.0" cy="554.0" rx="9.5" ry="17.5" fill="#fbdcb4" transform="rotate(-20 536.0 554.0)" opacity="0.9"/>
<ellipse cx="544.0" cy="542.0" rx="9.5" ry="8.5" fill="#fbdcb4" transform="rotate(-30 544.0 542.0)" opacity="0.9"/>
<ellipse cx="588.0" cy="505.0" rx="9.1" ry="15.5" fill="#fbdcb4" transform="rotate(-10 588.0 505.0)" opacity="0.9"/>
<ellipse cx="702.0" cy="526.0" rx="20.5" ry="15.9" fill="#fbdcb4" transform="rotate(10 702.0 526.0)" opacity="0.9"/>
<ellipse cx="688.0" cy="516.0" rx="10.5" ry="10.5" fill="#fbdcb4" opacity="0.9"/>
<ellipse cx="706.0" cy="528.0" rx="15.5" ry="10.5" fill="#fbdcb4" transform="rotate(10 706.0 528.0)" opacity="0.9"/>
<ellipse cx="694.0" cy="538.0" rx="9.5" ry="7.5" fill="#fbdcb4" opacity="0.9"/>
<ellipse cx="596.0" cy="612.0" rx="12.5" ry="13.5" fill="#fbdcb4" transform="rotate(20 596.0 612.0)" opacity="0.9"/>
<ellipse cx="606.0" cy="600.0" rx="9.5" ry="7.5" fill="#fbdcb4" transform="rotate(-30 606.0 600.0)" opacity="0.9"/>
<ellipse cx="677.0" cy="594.0" rx="6.5" ry="6.5" fill="#fbdcb4" transform="rotate(-30 677.0 594.0)" opacity="0.9"/>
<ellipse cx="716.0" cy="596.0" rx="5.5" ry="6.5" fill="#fbdcb4" opacity="0.9"/>
<ellipse cx="506.0" cy="496.0" rx="11.5" ry="25.5" fill="#c4d8f1" transform="rotate(22 506.0 496.0)" opacity="0.9"/>
<ellipse cx="491.0" cy="525.0" rx="10.5" ry="10.5" fill="#c4d8f1" opacity="0.9"/>
<ellipse cx="557.0" cy="492.0" rx="7.5" ry="11.5" fill="#c4d8f1" transform="rotate(10 557.0 492.0)" opacity="0.9"/>
<ellipse cx="603.0" cy="528.0" rx="16.5" ry="14.5" fill="#c4d8f1" transform="rotate(-20 603.0 528.0)" opacity="0.9"/>
<ellipse cx="614.0" cy="541.0" rx="9.5" ry="7.5" fill="#c4d8f1" opacity="0.9"/>
<ellipse cx="592.0" cy="548.0" rx="9.5" ry="9.5" fill="#c4d8f1" opacity="0.9"/>
<ellipse cx="570.0" cy="546.0" rx="8.5" ry="8.5" fill="#c4d8f1" opacity="0.9"/>
<ellipse cx="668.0" cy="520.0" rx="11.5" ry="29.5" fill="#c4d8f1" transform="rotate(28 668.0 520.0)" opacity="0.9"/>
<ellipse cx="691.0" cy="484.0" rx="10.5" ry="13.5" fill="#c4d8f1" transform="rotate(20 691.0 484.0)" opacity="0.9"/>
<ellipse cx="641.0" cy="528.0" rx="10.5" ry="19.5" fill="#c4d8f1" transform="rotate(-25 641.0 528.0)" opacity="0.9"/>
<ellipse cx="635.0" cy="553.0" rx="10.5" ry="14.5" fill="#c4d8f1" transform="rotate(30 635.0 553.0)" opacity="0.9"/>
<ellipse cx="655.0" cy="494.0" rx="8.5" ry="13.5" fill="#c4d8f1" transform="rotate(-5 655.0 494.0)" opacity="0.9"/>
<ellipse cx="614.0" cy="564.0" rx="9.5" ry="5.9" fill="#c4d8f1" transform="rotate(-25 614.0 564.0)" opacity="0.9"/>
<ellipse cx="478.0" cy="575.0" rx="12.5" ry="11.5" fill="#c4d8f1" opacity="0.9"/>
<ellipse cx="501.0" cy="582.0" rx="12.5" ry="17.5" fill="#c4d8f1" transform="rotate(-20 501.0 582.0)" opacity="0.9"/>
<ellipse cx="520.0" cy="606.0" rx="14.5" ry="15.5" fill="#c4d8f1" transform="rotate(-20 520.0 606.0)" opacity="0.9"/>
<ellipse cx="454.0" cy="624.0" rx="10.5" ry="17.5" fill="#c4d8f1" transform="rotate(-25 454.0 624.0)" opacity="0.9"/>
<ellipse cx="697.0" cy="597.0" rx="10.5" ry="13.5" fill="#c4d8f1" transform="rotate(-10 697.0 597.0)" opacity="0.9"/>
<ellipse cx="666.0" cy="646.0" rx="8.5" ry="21.5" fill="#c4d8f1" transform="rotate(5 666.0 646.0)" opacity="0.9"/>
<ellipse cx="658.0" cy="595.0" rx="8.5" ry="6.5" fill="#c4d8f1" transform="rotate(-15 658.0 595.0)" opacity="0.9"/>
<ellipse cx="476.0" cy="650.0" rx="5.9" ry="9.5" fill="#c4d8f1" opacity="0.9"/>
<ellipse cx="576.0" cy="621.0" rx="6.5" ry="6.5" fill="#c4d8f1" opacity="0.9"/>
<ellipse cx="715.0" cy="498.0" rx="6.5" ry="11.5" fill="#c4d8f1" opacity="0.9"/>
<ellipse cx="485.0" cy="500.0" rx="5.5" ry="5.5" fill="#c4d8f1" opacity="0.9"/>
<ellipse cx="744.0" cy="494.0" rx="20.0" ry="16.0" fill="#fde3bf" opacity="0.68"/>
<ellipse cx="758.0" cy="536.0" rx="28.0" ry="18.0" fill="#fde3bf" opacity="0.68"/>
<ellipse cx="808.0" cy="530.0" rx="16.0" ry="20.0" fill="#fde3bf" opacity="0.68"/>
<ellipse cx="818.0" cy="544.0" rx="16.0" ry="12.0" fill="#fde3bf" opacity="0.68"/>
<ellipse cx="838.0" cy="526.0" rx="12.0" ry="8.0" fill="#fde3bf" transform="rotate(-30 838.0 526.0)" opacity="0.68"/>
<ellipse cx="898.0" cy="510.0" rx="22.0" ry="20.0" fill="#fde3bf" opacity="0.68"/>
<ellipse cx="926.0" cy="518.0" rx="20.0" ry="16.0" fill="#fde3bf" transform="rotate(-30 926.0 518.0)" opacity="0.68"/>
<ellipse cx="924.0" cy="540.0" rx="16.0" ry="10.0" fill="#fde3bf" opacity="0.68"/>
<ellipse cx="968.0" cy="544.0" rx="16.0" ry="12.0" fill="#fde3bf" opacity="0.68"/>
<ellipse cx="946.0" cy="498.0" rx="8.0" ry="12.0" fill="#fde3bf" opacity="0.68"/>
<ellipse cx="808.0" cy="568.0" rx="16.0" ry="12.0" fill="#fde3bf" opacity="0.68"/>
<ellipse cx="778.0" cy="578.0" rx="10.0" ry="14.0" fill="#fde3bf" opacity="0.68"/>
<ellipse cx="818.0" cy="590.0" rx="20.0" ry="12.0" fill="#fde3bf" opacity="0.68"/>
<ellipse cx="858.0" cy="606.0" rx="10.0" ry="28.0" fill="#fde3bf" transform="rotate(-35 858.0 606.0)" opacity="0.68"/>
<ellipse cx="918.0" cy="598.0" rx="12.0" ry="22.0" fill="#fde3bf" opacity="0.68"/>
<ellipse cx="976.0" cy="592.0" rx="8.0" ry="12.0" fill="#fde3bf" opacity="0.68"/>
<ellipse cx="724.0" cy="640.0" rx="10.0" ry="10.0" fill="#fde3bf" opacity="0.68"/>
<ellipse cx="784.0" cy="618.0" rx="12.0" ry="8.0" fill="#fde3bf" opacity="0.68"/>
<ellipse cx="878.0" cy="648.0" rx="6.0" ry="16.0" fill="#fde3bf" opacity="0.68"/>
<ellipse cx="938.0" cy="634.0" rx="10.0" ry="6.0" fill="#fde3bf" opacity="0.68"/>
<ellipse cx="924.0" cy="668.0" rx="8.0" ry="6.0" fill="#fde3bf" opacity="0.68"/>
<ellipse cx="814.0" cy="662.0" rx="4.0" ry="10.0" fill="#fde3bf" opacity="0.68"/>
<ellipse cx="722.0" cy="578.0" rx="6.0" ry="12.0" fill="#fde3bf" opacity="0.68"/>
<ellipse cx="724.0" cy="606.0" rx="4.0" ry="12.0" fill="#fde3bf" opacity="0.68"/>
<ellipse cx="986.0" cy="618.0" rx="4.0" ry="8.0" fill="#fde3bf" opacity="0.68"/>
<ellipse cx="750.0" cy="586.0" rx="20.0" ry="30.0" fill="#cbddf3" transform="rotate(-15 750.0 586.0)" opacity="0.62"/>
<ellipse cx="784.0" cy="532.0" rx="10.0" ry="14.0" fill="#cbddf3" opacity="0.62"/>
<ellipse cx="831.0" cy="514.0" rx="8.0" ry="16.0" fill="#cbddf3" opacity="0.62"/>
<ellipse cx="858.0" cy="530.0" rx="26.0" ry="26.0" fill="#cbddf3" opacity="0.62"/>
<ellipse cx="892.0" cy="604.0" rx="18.0" ry="26.0" fill="#cbddf3" transform="rotate(-20 892.0 604.0)" opacity="0.62"/>
<ellipse cx="944.0" cy="594.0" rx="18.0" ry="22.0" fill="#cbddf3" transform="rotate(-20 944.0 594.0)" opacity="0.62"/>
<ellipse cx="836.0" cy="620.0" rx="14.0" ry="12.0" fill="#cbddf3" opacity="0.62"/>
<ellipse cx="830.0" cy="662.0" rx="10.0" ry="16.0" fill="#cbddf3" opacity="0.62"/>
<ellipse cx="758.0" cy="648.0" rx="8.0" ry="12.0" fill="#cbddf3" opacity="0.62"/>
<ellipse cx="984.0" cy="518.0" rx="8.0" ry="12.0" fill="#cbddf3" opacity="0.62"/>
<ellipse cx="916.0" cy="486.0" rx="6.0" ry="6.0" fill="#cbddf3" opacity="0.62"/>
<ellipse cx="878.0" cy="572.0" rx="6.0" ry="6.0" fill="#cbddf3" opacity="0.62"/>
<ellipse cx="732.0" cy="544.0" rx="6.0" ry="4.0" fill="#cbddf3" opacity="0.62"/>
<ellipse cx="938.0" cy="660.0" rx="6.0" ry="8.0" fill="#cbddf3" opacity="0.62"/>
<ellipse cx="862.0" cy="668.0" rx="8.0" ry="10.0" fill="#cbddf3" opacity="0.62"/>
<ellipse cx="798.0" cy="658.0" rx="6.0" ry="10.0" fill="#cbddf3" opacity="0.62"/>
<ellipse cx="824.0" cy="606.0" rx="10.0" ry="6.0" fill="#cbddf3" opacity="0.62"/>
<ellipse cx="743.0" cy="495.0" rx="9.1" ry="12.5" fill="#fbdcb4" opacity="0.9"/>
<ellipse cx="730.0" cy="482.0" rx="11.5" ry="8.5" fill="#fbdcb4" opacity="0.9"/>
<ellipse cx="762.0" cy="526.0" rx="7.9" ry="10.5" fill="#fbdcb4" transform="rotate(10 762.0 526.0)" opacity="0.9"/>
<ellipse cx="743.0" cy="536.0" rx="7.5" ry="6.5" fill="#fbdcb4" transform="rotate(30 743.0 536.0)" opacity="0.9"/>
<ellipse cx="761.0" cy="543.0" rx="8.5" ry="6.5" fill="#fbdcb4" opacity="0.9"/>
<ellipse cx="773.0" cy="551.0" rx="9.9" ry="10.5" fill="#fbdcb4" opacity="0.9"/>
<ellipse cx="773.0" cy="552.0" rx="7.1" ry="7.5" fill="#fbdcb4" opacity="0.9"/>
<ellipse cx="809.0" cy="543.0" rx="6.5" ry="7.5" fill="#fbdcb4" opacity="0.9"/>
<ellipse cx="814.0" cy="552.0" rx="7.5" ry="7.5" fill="#fbdcb4" opacity="0.9"/>
<ellipse cx="829.0" cy="536.0" rx="6.5" ry="6.5" fill="#fbdcb4" opacity="0.9"/>
<ellipse cx="816.0" cy="563.0" rx="9.5" ry="7.5" fill="#fbdcb4" transform="rotate(30 816.0 563.0)" opacity="0.9"/>
<ellipse cx="884.0" cy="516.0" rx="7.5" ry="13.5" fill="#fbdcb4" transform="rotate(20 884.0 516.0)" opacity="0.9"/>
<ellipse cx="896.0" cy="496.0" rx="5.9" ry="11.5" fill="#fbdcb4" opacity="0.9"/>
<ellipse cx="895.0" cy="531.0" rx="11.1" ry="11.9" fill="#fbdcb4" transform="rotate(-20 895.0 531.0)" opacity="0.9"/>
<ellipse cx="895.0" cy="531.6" rx="8.5" ry="9.1" fill="#fbdcb4" transform="rotate(-20 895.0 531.6)" opacity="0.9"/>
<ellipse cx="886.0" cy="524.0" rx="7.5" ry="6.5" fill="#fbdcb4" opacity="0.9"/>
<ellipse cx="924.0" cy="540.0" rx="14.5" ry="9.1" fill="#fbdcb4" transform="rotate(10 924.0 540.0)" opacity="0.9"/>
<ellipse cx="907.0" cy="528.0" rx="8.5" ry="5.5" fill="#fbdcb4" transform="rotate(-30 907.0 528.0)" opacity="0.9"/>
<ellipse cx="975.0" cy="540.0" rx="7.5" ry="7.5" fill="#fbdcb4" opacity="0.9"/>
<ellipse cx="962.0" cy="549.0" rx="9.5" ry="5.9" fill="#fbdcb4" opacity="0.9"/>
<ellipse cx="720.0" cy="595.0" rx="5.9" ry="7.5" fill="#fbdcb4" opacity="0.9"/>
<ellipse cx="719.0" cy="494.0" rx="6.5" ry="9.5" fill="#c4d8f1" opacity="0.9"/>
<ellipse cx="782.0" cy="528.0" rx="8.5" ry="11.5" fill="#c4d8f1" transform="rotate(-15 782.0 528.0)" opacity="0.9"/>
<ellipse cx="788.0" cy="554.0" rx="7.1" ry="7.9" fill="#c4d8f1" opacity="0.9"/>
<ellipse cx="831.0" cy="515.0" rx="7.9" ry="13.5" fill="#c4d8f1" opacity="0.9"/>
<ellipse cx="867.0" cy="508.0" rx="8.5" ry="19.5" fill="#c4d8f1" transform="rotate(15 867.0 508.0)" opacity="0.9"/>
<ellipse cx="864.0" cy="530.0" rx="12.5" ry="13.5" fill="#c4d8f1" opacity="0.9"/>
<ellipse cx="876.0" cy="537.0" rx="12.5" ry="9.5" fill="#c4d8f1" transform="rotate(-25 876.0 537.0)" opacity="0.9"/>
<ellipse cx="846.0" cy="546.0" rx="13.5" ry="7.5" fill="#c4d8f1" transform="rotate(-15 846.0 546.0)" opacity="0.9"/>
<ellipse cx="827.0" cy="553.0" rx="7.5" ry="5.1" fill="#c4d8f1" transform="rotate(-10 827.0 553.0)" opacity="0.9"/>
<ellipse cx="748.0" cy="580.0" rx="14.5" ry="22.5" fill="#c4d8f1" transform="rotate(-15 748.0 580.0)" opacity="0.9"/>
<ellipse cx="758.0" cy="606.0" rx="9.5" ry="13.5" fill="#c4d8f1" transform="rotate(-15 758.0 606.0)" opacity="0.9"/>
<ellipse cx="835.0" cy="621.0" rx="11.5" ry="9.5" fill="#c4d8f1" transform="rotate(15 835.0 621.0)" opacity="0.9"/>
<ellipse cx="888.0" cy="594.0" rx="9.5" ry="12.5" fill="#c4d8f1" transform="rotate(-25 888.0 594.0)" opacity="0.9"/>
<ellipse cx="898.0" cy="614.0" rx="9.5" ry="14.5" fill="#c4d8f1" transform="rotate(-10 898.0 614.0)" opacity="0.9"/>
<ellipse cx="945.0" cy="590.0" rx="13.5" ry="16.5" fill="#c4d8f1" transform="rotate(-25 945.0 590.0)" opacity="0.9"/>
<ellipse cx="830.0" cy="662.0" rx="8.5" ry="14.5" fill="#c4d8f1" opacity="0.9"/>
<ellipse cx="758.0" cy="647.0" rx="6.5" ry="10.5" fill="#c4d8f1" opacity="0.9"/>
<ellipse cx="915.0" cy="486.0" rx="6.5" ry="7.5" fill="#c4d8f1" opacity="0.9"/>
<ellipse cx="985.0" cy="518.0" rx="7.5" ry="11.5" fill="#c4d8f1" opacity="0.9"/>
<ellipse cx="945.0" cy="536.0" rx="6.5" ry="5.1" fill="#c4d8f1" transform="rotate(-30 945.0 536.0)" opacity="0.9"/>
<ellipse cx="970.0" cy="540.0" rx="14.0" ry="12.0" fill="#fde3bf" opacity="0.68"/>
<ellipse cx="1016.0" cy="538.0" rx="14.0" ry="28.0" fill="#fde3bf" opacity="0.68"/>
<ellipse cx="1068.0" cy="502.0" rx="12.0" ry="18.0" fill="#fde3bf" opacity="0.68"/>
<ellipse cx="1104.0" cy="532.0" rx="14.0" ry="22.0" fill="#fde3bf" opacity="0.68"/>
<ellipse cx="1134.0" cy="550.0" rx="12.0" ry="12.0" fill="#fde3bf" opacity="0.68"/>
<ellipse cx="1172.0" cy="554.0" rx="22.0" ry="26.0" fill="#fde3bf" opacity="0.68"/>
<ellipse cx="1158.0" cy="504.0" rx="16.0" ry="16.0" fill="#fde3bf" opacity="0.68"/>
<ellipse cx="1178.0" cy="508.0" rx="8.0" ry="16.0" fill="#fde3bf" opacity="0.68"/>
<ellipse cx="1198.0" cy="528.0" rx="12.0" ry="8.0" fill="#fde3bf" opacity="0.68"/>
<ellipse cx="992.0" cy="494.0" rx="6.0" ry="6.0" fill="#fde3bf" opacity="0.68"/>
<ellipse cx="976.0" cy="592.0" rx="10.0" ry="10.0" fill="#fde3bf" opacity="0.68"/>
<ellipse cx="1026.0" cy="582.0" rx="12.0" ry="12.0" fill="#fde3bf" opacity="0.68"/>
<ellipse cx="1058.0" cy="602.0" rx="14.0" ry="18.0" fill="#fde3bf" opacity="0.68"/>
<ellipse cx="992.0" cy="612.0" rx="10.0" ry="18.0" fill="#fde3bf" opacity="0.68"/>
<ellipse cx="1098.0" cy="592.0" rx="6.0" ry="12.0" fill="#fde3bf" opacity="0.68"/>
<ellipse cx="1138.0" cy="590.0" rx="8.0" ry="8.0" fill="#fde3bf" opacity="0.68"/>
<ellipse cx="1030.0" cy="644.0" rx="8.0" ry="12.0" fill="#fde3bf" opacity="0.68"/>
<ellipse cx="1150.0" cy="656.0" rx="6.0" ry="8.0" fill="#fde3bf" opacity="0.68"/>
<ellipse cx="1171.0" cy="662.0" rx="6.0" ry="10.0" fill="#fde3bf" opacity="0.68"/>
<ellipse cx="1062.0" cy="644.0" rx="8.0" ry="6.0" fill="#fde3bf" opacity="0.68"/>
<ellipse cx="1112.0" cy="658.0" rx="8.0" ry="6.0" fill="#fde3bf" opacity="0.68"/>
<ellipse cx="966.0" cy="642.0" rx="8.0" ry="6.0" fill="#fde3bf" opacity="0.68"/>
<ellipse cx="1126.0" cy="504.0" rx="8.0" ry="16.0" fill="#fde3bf" opacity="0.68"/>
<ellipse cx="1082.0" cy="518.0" rx="8.0" ry="8.0" fill="#fde3bf" opacity="0.68"/>
<ellipse cx="1004.0" cy="630.0" rx="6.0" ry="6.0" fill="#fde3bf" opacity="0.68"/>
<ellipse cx="1158.0" cy="606.0" rx="6.0" ry="6.0" fill="#fde3bf" opacity="0.68"/>
<ellipse cx="1046.0" cy="538.0" rx="22.0" ry="36.0" fill="#cbddf3" opacity="0.62"/>
<ellipse cx="988.0" cy="520.0" rx="12.0" ry="14.0" fill="#cbddf3" opacity="0.62"/>
<ellipse cx="1016.0" cy="488.0" rx="10.0" ry="8.0" fill="#cbddf3" opacity="0.62"/>
<ellipse cx="1108.0" cy="496.0" rx="10.0" ry="14.0" fill="#cbddf3" opacity="0.62"/>
<ellipse cx="1114.0" cy="556.0" rx="10.0" ry="14.0" fill="#cbddf3" opacity="0.62"/>
<ellipse cx="1092.0" cy="570.0" rx="10.0" ry="14.0" fill="#cbddf3" opacity="0.62"/>
<ellipse cx="995.0" cy="578.0" rx="12.0" ry="14.0" fill="#cbddf3" opacity="0.62"/>
<ellipse cx="1032.0" cy="618.0" rx="10.0" ry="16.0" fill="#cbddf3" opacity="0.62"/>
<ellipse cx="1096.0" cy="628.0" rx="10.0" ry="16.0" fill="#cbddf3" opacity="0.62"/>
<ellipse cx="1144.0" cy="626.0" rx="10.0" ry="18.0" fill="#cbddf3" opacity="0.62"/>
<ellipse cx="1138.0" cy="658.0" rx="14.0" ry="20.0" fill="#cbddf3" opacity="0.62"/>
<ellipse cx="1188.0" cy="628.0" rx="30.0" ry="40.0" fill="#cbddf3" opacity="0.62"/>
<ellipse cx="1208.0" cy="668.0" rx="26.0" ry="14.0" fill="#cbddf3" opacity="0.62"/>
<ellipse cx="1110.0" cy="598.0" rx="12.0" ry="8.0" fill="#cbddf3" opacity="0.62"/>
<ellipse cx="1043.0" cy="594.0" rx="6.0" ry="8.0" fill="#cbddf3" opacity="0.62"/>
<ellipse cx="1156.0" cy="542.0" rx="6.0" ry="10.0" fill="#cbddf3" opacity="0.62"/>
<ellipse cx="1082.0" cy="608.0" rx="6.0" ry="8.0" fill="#cbddf3" opacity="0.62"/>
<ellipse cx="1210.0" cy="518.0" rx="6.0" ry="8.0" fill="#cbddf3" opacity="0.62"/>
<ellipse cx="1015.0" cy="670.0" rx="10.0" ry="6.0" fill="#cbddf3" opacity="0.62"/>
<ellipse cx="1046.0" cy="662.0" rx="6.0" ry="8.0" fill="#cbddf3" opacity="0.62"/>
<ellipse cx="962.0" cy="588.0" rx="4.0" ry="6.0" fill="#cbddf3" opacity="0.62"/>
<ellipse cx="974.0" cy="510.0" rx="8.0" ry="6.0" fill="#cbddf3" opacity="0.62"/>
<ellipse cx="1014.0" cy="530.0" rx="11.1" ry="20.5" fill="#fbdcb4" transform="rotate(10 1014.0 530.0)" opacity="0.9"/>
<ellipse cx="1009.6" cy="548.0" rx="11.9" ry="14.5" fill="#fbdcb4" opacity="0.9"/>
<ellipse cx="1009.6" cy="550.0" rx="8.7" ry="9.9" fill="#fbdcb4" opacity="0.9"/>
<ellipse cx="1019.0" cy="561.0" rx="12.5" ry="7.1" fill="#fbdcb4" transform="rotate(30 1019.0 561.0)" opacity="0.9"/>
<ellipse cx="1068.0" cy="498.0" rx="9.5" ry="14.5" fill="#fbdcb4" transform="rotate(10 1068.0 498.0)" opacity="0.9"/>
<ellipse cx="1080.0" cy="518.0" rx="8.5" ry="7.9" fill="#fbdcb4" opacity="0.9"/>
<ellipse cx="1105.0" cy="524.0" rx="10.5" ry="12.5" fill="#fbdcb4" opacity="0.9"/>
<ellipse cx="1102.0" cy="541.0" rx="10.5" ry="11.5" fill="#fbdcb4" opacity="0.9"/>
<ellipse cx="1135.0" cy="550.0" rx="11.5" ry="11.9" fill="#fbdcb4" opacity="0.9"/>
<ellipse cx="1171.0" cy="544.0" rx="13.5" ry="14.5" fill="#fbdcb4" opacity="0.9"/>
<ellipse cx="1166.0" cy="562.0" rx="16.5" ry="15.5" fill="#fbdcb4" opacity="0.9"/>
<ellipse cx="1166.0" cy="563.0" rx="10.5" ry="10.5" fill="#fbdcb4" opacity="0.9"/>
<ellipse cx="1185.0" cy="544.0" rx="8.5" ry="11.5" fill="#fbdcb4" opacity="0.9"/>
<ellipse cx="1182.0" cy="558.0" rx="11.5" ry="9.5" fill="#fbdcb4" opacity="0.9"/>
<ellipse cx="1196.0" cy="564.0" rx="14.5" ry="9.5" fill="#fbdcb4" transform="rotate(30 1196.0 564.0)" opacity="0.9"/>
<ellipse cx="1201.0" cy="573.0" rx="11.5" ry="8.5" fill="#fbdcb4" transform="rotate(30 1201.0 573.0)" opacity="0.9"/>
<ellipse cx="1016.0" cy="487.0" rx="7.5" ry="7.5" fill="#c4d8f1" opacity="0.9"/>
<ellipse cx="988.0" cy="520.0" rx="8.5" ry="10.5" fill="#c4d8f1" transform="rotate(-10 988.0 520.0)" opacity="0.9"/>
<ellipse cx="1052.0" cy="521.0" rx="13.1" ry="18.5" fill="#c4d8f1" transform="rotate(10 1052.0 521.0)" opacity="0.9"/>
<ellipse cx="1043.0" cy="545.0" rx="16.5" ry="15.5" fill="#c4d8f1" transform="rotate(-10 1043.0 545.0)" opacity="0.9"/>
<ellipse cx="1038.0" cy="550.0" rx="10.5" ry="10.5" fill="#c4d8f1" opacity="0.9"/>
<ellipse cx="1041.0" cy="565.0" rx="9.9" ry="13.1" fill="#c4d8f1" opacity="0.9"/>
<ellipse cx="1058.0" cy="536.0" rx="9.5" ry="11.5" fill="#c4d8f1" opacity="0.9"/>
<ellipse cx="1108.0" cy="495.0" rx="8.5" ry="12.5" fill="#c4d8f1" transform="rotate(20 1108.0 495.0)" opacity="0.9"/>
<ellipse cx="1114.0" cy="554.0" rx="7.9" ry="11.5" fill="#c4d8f1" opacity="0.9"/>
<ellipse cx="1092.0" cy="570.0" rx="8.5" ry="11.5" fill="#c4d8f1" transform="rotate(10 1092.0 570.0)" opacity="0.9"/>
<ellipse cx="1155.0" cy="543.0" rx="6.5" ry="10.5" fill="#c4d8f1" transform="rotate(25 1155.0 543.0)" opacity="0.9"/>
<ellipse cx="1220.0" cy="546.0" rx="8.5" ry="15.5" fill="#c4d8f1" transform="rotate(10 1220.0 546.0)" opacity="0.9"/>
<ellipse cx="1216.0" cy="556.0" rx="7.5" ry="7.5" fill="#c4d8f1" opacity="0.9"/>
<ellipse cx="995.0" cy="576.0" rx="10.5" ry="11.5" fill="#c4d8f1" opacity="0.9"/>
<ellipse cx="992.0" cy="584.0" rx="7.5" ry="9.5" fill="#c4d8f1" opacity="0.9"/>
<ellipse cx="1043.0" cy="594.0" rx="6.5" ry="8.5" fill="#c4d8f1" transform="rotate(10 1043.0 594.0)" opacity="0.9"/>
<ellipse cx="1032.0" cy="618.0" rx="7.9" ry="13.5" fill="#c4d8f1" transform="rotate(-15 1032.0 618.0)" opacity="0.9"/>
<ellipse cx="1096.0" cy="627.0" rx="8.5" ry="13.5" fill="#c4d8f1" transform="rotate(5 1096.0 627.0)" opacity="0.9"/>
<ellipse cx="1110.0" cy="598.0" rx="8.5" ry="5.9" fill="#c4d8f1" transform="rotate(30 1110.0 598.0)" opacity="0.9"/>
<ellipse cx="1144.0" cy="626.0" rx="8.5" ry="13.5" fill="#c4d8f1" opacity="0.9"/>
<ellipse cx="1137.0" cy="658.0" rx="11.5" ry="17.5" fill="#c4d8f1" transform="rotate(10 1137.0 658.0)" opacity="0.9"/>
<ellipse cx="1174.0" cy="620.0" rx="10.5" ry="23.5" fill="#c4d8f1" transform="rotate(20 1174.0 620.0)" opacity="0.9"/>
<ellipse cx="1188.0" cy="606.0" rx="13.5" ry="11.5" fill="#c4d8f1" opacity="0.9"/>
<ellipse cx="1196.0" cy="630.0" rx="13.5" ry="25.5" fill="#c4d8f1" transform="rotate(-20 1196.0 630.0)" opacity="0.9"/>
<ellipse cx="1204.0" cy="654.0" rx="13.5" ry="13.5" fill="#c4d8f1" transform="rotate(-20 1204.0 654.0)" opacity="0.9"/>
<ellipse cx="1208.0" cy="668.0" rx="25.5" ry="14.5" fill="#c4d8f1" opacity="0.9"/>
<ellipse cx="1184.0" cy="670.0" rx="17.5" ry="11.5" fill="#c4d8f1" opacity="0.9"/>
<ellipse cx="1173.0" cy="596.0" rx="8.5" ry="8.5" fill="#c4d8f1" opacity="0.9"/>
<ellipse cx="1025.0" cy="497.0" rx="5.9" ry="6.5" fill="#c4d8f1" opacity="0.9"/>
</g>
<g filter="url(#b2_5)">
<ellipse cx="379.6" cy="296.0" rx="5.9" ry="9.3" fill="#e9a758" transform="rotate(15 379.6 296.0)"/>
<ellipse cx="372.0" cy="316.0" rx="7.9" ry="8.3" fill="#f0c7a0"/>
<ellipse cx="317.4" cy="329.0" rx="6.3" ry="11.3" fill="#e9a758" transform="rotate(-5 317.4 329.0)"/>
<ellipse cx="267.0" cy="346.0" rx="5.3" ry="12.3" fill="#e9a758" transform="rotate(-5 267.0 346.0)"/>
<ellipse cx="298.6" cy="352.0" rx="3.3" ry="8.3" fill="#f0c7a0" transform="rotate(5 298.6 352.0)"/>
<ellipse cx="229.0" cy="368.0" rx="7.9" ry="9.3" fill="#f0c7a0"/>
<ellipse cx="254.0" cy="408.0" rx="3.1" ry="9.3" fill="#f0c7a0"/>
<ellipse cx="236.0" cy="462.0" rx="13.3" ry="19.3" fill="#e9a758" transform="rotate(10 236.0 462.0)"/>
<ellipse cx="229.0" cy="466.0" rx="5.3" ry="6.3" fill="#e07b0e"/>
<ellipse cx="388.0" cy="432.0" rx="13.3" ry="7.3" fill="#e9a758" transform="rotate(-25 388.0 432.0)"/>
<ellipse cx="397.0" cy="420.0" rx="3.3" ry="8.3" fill="#e9a758" transform="rotate(10 397.0 420.0)"/>
<ellipse cx="370.0" cy="455.0" rx="10.3" ry="3.9" fill="#e9a758" transform="rotate(-45 370.0 455.0)"/>
<ellipse cx="406.0" cy="445.0" rx="5.3" ry="2.3" fill="#f0c7a0" transform="rotate(15 406.0 445.0)"/>
<ellipse cx="289.0" cy="480.0" rx="5.3" ry="7.3" fill="#e9a758" transform="rotate(20 289.0 480.0)"/>
<ellipse cx="410.0" cy="289.0" rx="6.3" ry="3.3" fill="#e9a758"/>
<ellipse cx="333.0" cy="304.0" rx="3.3" ry="8.3" fill="#f0c7a0" transform="rotate(5 333.0 304.0)"/>
<ellipse cx="367.0" cy="365.0" rx="3.3" ry="7.3" fill="#f6e4d6"/>
<ellipse cx="412.0" cy="354.0" rx="4.3" ry="9.3" fill="#f6e4d6"/>
<ellipse cx="420.0" cy="403.0" rx="6.3" ry="10.3" fill="#f6e4d6" transform="rotate(20 420.0 403.0)"/>
<ellipse cx="304.0" cy="431.0" rx="3.3" ry="7.3" fill="#f6e4d6"/>
<ellipse cx="179.0" cy="298.0" rx="2.7" ry="8.3" fill="#f0c7a0"/>
<ellipse cx="226.0" cy="294.0" rx="2.3" ry="8.3" fill="#f6e4d6"/>
<ellipse cx="196.0" cy="294.0" rx="5.3" ry="6.3" fill="#bccfea"/>
<ellipse cx="284.0" cy="308.0" rx="7.3" ry="9.3" fill="#8a9fc7" transform="rotate(10 284.0 308.0)"/>
<ellipse cx="278.0" cy="296.0" rx="3.9" ry="6.3" fill="#bccfea" transform="rotate(-20 278.0 296.0)"/>
<ellipse cx="359.0" cy="293.0" rx="10.3" ry="7.3" fill="#8a9fc7"/>
<ellipse cx="348.0" cy="320.0" rx="6.3" ry="10.3" fill="#8a9fc7"/>
<ellipse cx="387.0" cy="356.0" rx="9.3" ry="16.3" fill="#8a9fc7" transform="rotate(-15 387.0 356.0)"/>
<ellipse cx="374.0" cy="393.0" rx="4.3" ry="6.3" fill="#8a9fc7" transform="rotate(10 374.0 393.0)"/>
<ellipse cx="208.0" cy="417.0" rx="4.3" ry="14.3" fill="#8a9fc7" transform="rotate(-5 208.0 417.0)"/>
<ellipse cx="281.0" cy="437.0" rx="7.3" ry="8.3" fill="#8a9fc7" transform="rotate(-20 281.0 437.0)"/>
<ellipse cx="363.0" cy="435.0" rx="5.9" ry="7.3" fill="#8a9fc7" transform="rotate(20 363.0 435.0)"/>
<ellipse cx="346.0" cy="452.0" rx="5.9" ry="9.3" fill="#8a9fc7"/>
<ellipse cx="384.0" cy="466.0" rx="14.3" ry="5.3" fill="#8a9fc7" transform="rotate(-30 384.0 466.0)"/>
<ellipse cx="352.0" cy="480.0" rx="8.3" ry="9.3" fill="#5a6f9e"/>
<ellipse cx="349.0" cy="416.0" rx="6.3" ry="6.3" fill="#bccfea"/>
<ellipse cx="308.0" cy="477.0" rx="6.3" ry="4.3" fill="#bccfea"/>
<ellipse cx="445.0" cy="454.0" rx="4.3" ry="10.3" fill="#8a9fc7"/>
<ellipse cx="214.0" cy="466.0" rx="3.3" ry="3.3" fill="#bccfea"/>
<ellipse cx="204.0" cy="335.0" rx="3.3" ry="12.3" fill="#cfe0f5"/>
<ellipse cx="290.0" cy="338.0" rx="2.7" ry="7.3" fill="#cfe0f5"/>
<ellipse cx="179.0" cy="454.0" rx="2.7" ry="9.3" fill="#8a9fc7"/>
<ellipse cx="346.0" cy="360.0" rx="6.3" ry="6.3" fill="#cfe0f5"/>
<ellipse cx="259.0" cy="308.0" rx="3.3" ry="6.3" fill="#cfe0f5"/>
<ellipse cx="393.0" cy="303.0" rx="2.3" ry="6.3" fill="#cfe0f5"/>
<ellipse cx="446.0" cy="404.0" rx="3.3" ry="4.3" fill="#bccfea"/>
<ellipse cx="323.0" cy="438.0" rx="3.9" ry="4.3" fill="#cfe0f5"/>
<ellipse cx="256.0" cy="442.0" rx="2.3" ry="5.3" fill="#cfe0f5"/>
<ellipse cx="498.0" cy="313.0" rx="5.9" ry="8.3" fill="#e9a758"/>
<ellipse cx="586.0" cy="295.0" rx="9.3" ry="10.3" fill="#e9a758" transform="rotate(20 586.0 295.0)"/>
<ellipse cx="623.0" cy="296.0" rx="4.3" ry="7.3" fill="#e9a758"/>
<ellipse cx="649.0" cy="321.0" rx="6.3" ry="12.3" fill="#e9a758" transform="rotate(25 649.0 321.0)"/>
<ellipse cx="638.0" cy="337.0" rx="8.3" ry="4.3" fill="#f0c7a0" transform="rotate(-20 638.0 337.0)"/>
<ellipse cx="592.0" cy="337.0" rx="7.3" ry="8.3" fill="#f0c7a0" transform="rotate(-30 592.0 337.0)"/>
<ellipse cx="595.0" cy="366.0" rx="8.3" ry="8.3" fill="#f0c7a0"/>
<ellipse cx="648.0" cy="365.0" rx="7.3" ry="5.3" fill="#f0c7a0" transform="rotate(-30 648.0 365.0)"/>
<ellipse cx="573.0" cy="388.0" rx="7.3" ry="13.3" fill="#e9a758" transform="rotate(10 573.0 388.0)"/>
<ellipse cx="498.0" cy="380.0" rx="5.3" ry="10.3" fill="#f0c7a0" transform="rotate(-20 498.0 380.0)"/>
<ellipse cx="506.0" cy="396.0" rx="4.3" ry="5.3" fill="#f0c7a0"/>
<ellipse cx="488.0" cy="410.0" rx="5.3" ry="4.3" fill="#f0c7a0"/>
<ellipse cx="650.4" cy="433.0" rx="7.3" ry="10.3" fill="#e07b0e"/>
<ellipse cx="467.0" cy="460.0" rx="9.9" ry="17.3" fill="#e9a758" transform="rotate(5 467.0 460.0)"/>
<ellipse cx="571.0" cy="474.0" rx="8.7" ry="19.3" fill="#e9a758"/>
<ellipse cx="571.0" cy="478.0" rx="5.5" ry="17.3" fill="#ee5508"/>
<ellipse cx="709.0" cy="464.0" rx="9.9" ry="14.7" fill="#e9a758"/>
<ellipse cx="709.0" cy="464.0" rx="6.7" ry="10.7" fill="#ee5508"/>
<ellipse cx="478.0" cy="295.0" rx="4.3" ry="8.3" fill="#f6e4d6" transform="rotate(-10 478.0 295.0)"/>
<ellipse cx="550.0" cy="301.0" rx="4.3" ry="6.3" fill="#f6e4d6"/>
<ellipse cx="541.0" cy="356.0" rx="2.7" ry="8.3" fill="#f6e4d6"/>
<ellipse cx="714.0" cy="298.0" rx="3.3" ry="8.3" fill="#f6e4d6"/>
<ellipse cx="489.0" cy="436.0" rx="2.7" ry="3.3" fill="#f6e4d6"/>
<ellipse cx="464.0" cy="420.0" rx="2.7" ry="2.3" fill="#f6e4d6"/>
<ellipse cx="511.0" cy="292.0" rx="5.9" ry="6.3" fill="#8a9fc7"/>
<ellipse cx="564.0" cy="300.0" rx="3.9" ry="14.3" fill="#bccfea" transform="rotate(-5 564.0 300.0)"/>
<ellipse cx="557.0" cy="331.0" rx="8.3" ry="11.3" fill="#8a9fc7"/>
<ellipse cx="606.0" cy="292.0" rx="5.3" ry="6.3" fill="#bccfea"/>
<ellipse cx="525.0" cy="352.0" rx="5.9" ry="15.3" fill="#a3b7d8" transform="rotate(5 525.0 352.0)"/>
<ellipse cx="479.0" cy="373.0" rx="4.3" ry="11.3" fill="#bccfea" transform="rotate(20 479.0 373.0)"/>
<ellipse cx="461.0" cy="399.0" rx="4.3" ry="8.3" fill="#8a9fc7"/>
<ellipse cx="451.0" cy="403.0" rx="3.3" ry="3.3" fill="#bccfea"/>
<ellipse cx="616.6" cy="400.0" rx="5.9" ry="8.3" fill="#8a9fc7"/>
<ellipse cx="514.0" cy="426.0" rx="3.3" ry="6.3" fill="#bccfea"/>
<ellipse cx="569.0" cy="432.0" rx="3.3" ry="4.3" fill="#cfe0f5"/>
<ellipse cx="525.0" cy="467.0" rx="10.3" ry="10.3" fill="#8a9fc7" transform="rotate(-20 525.0 467.0)"/>
<ellipse cx="510.0" cy="480.0" rx="10.3" ry="5.3" fill="#8a9fc7" transform="rotate(-25 510.0 480.0)"/>
<ellipse cx="625.0" cy="428.0" rx="5.9" ry="12.3" fill="#8a9fc7" transform="rotate(-10 625.0 428.0)"/>
<ellipse cx="634.0" cy="448.0" rx="7.3" ry="14.3" fill="#8a9fc7" transform="rotate(-15 634.0 448.0)"/>
<ellipse cx="689.0" cy="466.0" rx="6.7" ry="15.3" fill="#5a6f9e" transform="rotate(-5 689.0 466.0)"/>
<ellipse cx="693.0" cy="482.0" rx="6.3" ry="6.3" fill="#8a9fc7"/>
<ellipse cx="647.0" cy="300.0" rx="3.3" ry="3.3" fill="#bccfea"/>
<ellipse cx="471.0" cy="311.0" rx="2.7" ry="5.3" fill="#cfe0f5"/>
<ellipse cx="449.0" cy="452.0" rx="2.7" ry="6.3" fill="#8a9fc7"/>
<ellipse cx="487.0" cy="448.0" rx="2.7" ry="2.3" fill="#cfe0f5"/>
<ellipse cx="588.0" cy="448.0" rx="3.3" ry="4.3" fill="#cfe0f5"/>
<ellipse cx="542.0" cy="382.0" rx="4.3" ry="5.3" fill="#cfe0f5"/>
<ellipse cx="619.0" cy="476.0" rx="3.3" ry="5.3" fill="#cfe0f5"/>
<ellipse cx="656.0" cy="483.0" rx="4.3" ry="3.3" fill="#bccfea"/>
<ellipse cx="784.0" cy="299.0" rx="4.7" ry="11.3" fill="#e9a758" transform="rotate(-5 784.0 299.0)"/>
<ellipse cx="736.0" cy="294.0" rx="3.3" ry="8.3" fill="#f0c7a0" transform="rotate(20 736.0 294.0)"/>
<ellipse cx="723.0" cy="312.0" rx="5.3" ry="5.3" fill="#f0c7a0"/>
<ellipse cx="731.0" cy="365.0" rx="4.3" ry="5.3" fill="#f0c7a0"/>
<ellipse cx="820.0" cy="333.0" rx="5.3" ry="7.3" fill="#f4dcc6"/>
<ellipse cx="770.0" cy="329.0" rx="3.3" ry="4.3" fill="#f6e4d6"/>
<ellipse cx="899.0" cy="350.0" rx="6.7" ry="20.3" fill="#e9a758" transform="rotate(-8 899.0 350.0)"/>
<ellipse cx="904.0" cy="380.0" rx="6.3" ry="9.9" fill="#e07b0e"/>
<ellipse cx="935.0" cy="314.0" rx="3.9" ry="6.3" fill="#f0c7a0" transform="rotate(10 935.0 314.0)"/>
<ellipse cx="952.0" cy="369.0" rx="9.3" ry="3.9" fill="#e9a758" transform="rotate(-30 952.0 369.0)"/>
<ellipse cx="942.0" cy="360.0" rx="7.3" ry="2.7" fill="#f0c7a0" transform="rotate(40 942.0 360.0)"/>
<ellipse cx="954.0" cy="420.0" rx="2.7" ry="5.3" fill="#f0c7a0"/>
<ellipse cx="910.0" cy="455.0" rx="3.3" ry="5.3" fill="#f4dcc6"/>
<ellipse cx="816.0" cy="476.0" rx="3.3" ry="5.3" fill="#f4dcc6"/>
<ellipse cx="859.0" cy="318.0" rx="4.3" ry="6.3" fill="#f6e4d6"/>
<ellipse cx="808.0" cy="380.0" rx="4.3" ry="3.3" fill="#f6e4d6"/>
<ellipse cx="830.0" cy="392.0" rx="4.3" ry="3.3" fill="#f6e4d6"/>
<ellipse cx="836.0" cy="448.0" rx="4.3" ry="5.3" fill="#f6e4d6"/>
<ellipse cx="882.0" cy="354.0" rx="3.9" ry="7.3" fill="#bccfea" transform="rotate(25 882.0 354.0)"/>
<ellipse cx="865.0" cy="375.0" rx="3.3" ry="6.3" fill="#cfe0f5"/>
<ellipse cx="918.0" cy="346.0" rx="5.3" ry="14.3" fill="#a3b7d8" transform="rotate(-15 918.0 346.0)"/>
<ellipse cx="928.0" cy="378.0" rx="15.3" ry="7.3" fill="#8a9fc7" transform="rotate(-35 928.0 378.0)"/>
<ellipse cx="951.0" cy="388.0" rx="8.3" ry="8.3" fill="#8a9fc7"/>
<ellipse cx="933.0" cy="405.0" rx="3.3" ry="7.3" fill="#bccfea"/>
<ellipse cx="971.0" cy="418.0" rx="3.9" ry="11.3" fill="#bccfea" transform="rotate(25 971.0 418.0)"/>
<ellipse cx="899.0" cy="452.0" rx="2.7" ry="5.3" fill="#a3b7d8" transform="rotate(20 899.0 452.0)"/>
<ellipse cx="796.0" cy="478.0" rx="5.3" ry="8.3" fill="#cfe0f5"/>
<ellipse cx="836.0" cy="478.0" rx="5.3" ry="7.3" fill="#cfe0f5"/>
<ellipse cx="761.0" cy="428.0" rx="4.3" ry="5.3" fill="#cfe0f5"/>
<ellipse cx="1144.0" cy="297.0" rx="6.3" ry="7.3" fill="#e9a758"/>
<ellipse cx="1193.0" cy="292.0" rx="6.3" ry="5.3" fill="#f0c7a0"/>
<ellipse cx="1198.0" cy="322.0" rx="6.9" ry="18.3" fill="#e9a758" transform="rotate(15 1198.0 322.0)"/>
<ellipse cx="1190.0" cy="348.0" rx="6.9" ry="16.3" fill="#e9a758" transform="rotate(10 1190.0 348.0)"/>
<ellipse cx="1189.6" cy="352.0" rx="4.7" ry="12.3" fill="#e07b0e" transform="rotate(10 1189.6 352.0)"/>
<ellipse cx="1184.0" cy="370.0" rx="6.3" ry="14.3" fill="#e07b0e" transform="rotate(5 1184.0 370.0)"/>
<ellipse cx="1184.4" cy="369.0" rx="3.7" ry="12.7" fill="#ee5508" transform="rotate(8 1184.4 369.0)"/>
<ellipse cx="1180.0" cy="386.0" rx="4.3" ry="8.3" fill="#e9a758"/>
<ellipse cx="1107.0" cy="394.0" rx="5.9" ry="11.3" fill="#f0c7a0" transform="rotate(-10 1107.0 394.0)"/>
<ellipse cx="1113.0" cy="414.0" rx="4.7" ry="9.3" fill="#f0c7a0" transform="rotate(-15 1113.0 414.0)"/>
<ellipse cx="1006.0" cy="413.0" rx="8.3" ry="5.3" fill="#f0c7a0" transform="rotate(-25 1006.0 413.0)"/>
<ellipse cx="1170.0" cy="438.0" rx="5.3" ry="6.3" fill="#f4dcc6"/>
<ellipse cx="1195.0" cy="461.0" rx="4.3" ry="5.3" fill="#f0c7a0"/>
<ellipse cx="1025.0" cy="470.0" rx="3.3" ry="4.7" fill="#f0c7a0"/>
<ellipse cx="1081.0" cy="477.0" rx="4.3" ry="7.3" fill="#f0c7a0" transform="rotate(20 1081.0 477.0)"/>
<ellipse cx="1058.0" cy="397.0" rx="10.3" ry="3.9" fill="#f6e4d6" transform="rotate(-25 1058.0 397.0)"/>
<ellipse cx="1150.0" cy="462.0" rx="8.3" ry="12.3" fill="#f6e4d6"/>
<ellipse cx="1216.0" cy="460.0" rx="3.3" ry="4.3" fill="#f6e4d6"/>
<ellipse cx="1114.0" cy="374.0" rx="2.3" ry="3.3" fill="#f0c7a0"/>
<ellipse cx="1046.0" cy="365.0" rx="5.3" ry="9.3" fill="#8a9fc7" transform="rotate(30 1046.0 365.0)"/>
<ellipse cx="1036.0" cy="405.0" rx="4.7" ry="10.3" fill="#8a9fc7" transform="rotate(20 1036.0 405.0)"/>
<ellipse cx="971.0" cy="419.0" rx="5.3" ry="11.3" fill="#bccfea" transform="rotate(25 971.0 419.0)"/>
<ellipse cx="1098.0" cy="422.0" rx="5.3" ry="8.3" fill="#bccfea" transform="rotate(-10 1098.0 422.0)"/>
<ellipse cx="1142.0" cy="415.0" rx="6.3" ry="5.3" fill="#a3b7d8" transform="rotate(10 1142.0 415.0)"/>
<ellipse cx="1150.0" cy="428.0" rx="3.3" ry="2.3" fill="#bccfea"/>
<ellipse cx="1040.0" cy="458.0" rx="5.3" ry="12.3" fill="#8a9fc7" transform="rotate(-15 1040.0 458.0)"/>
<ellipse cx="1032.0" cy="448.0" rx="3.3" ry="4.3" fill="#bccfea"/>
<ellipse cx="1002.0" cy="475.0" rx="3.9" ry="5.3" fill="#bccfea"/>
<ellipse cx="1067.0" cy="448.0" rx="2.7" ry="3.3" fill="#bccfea"/>
<ellipse cx="1020.0" cy="426.0" rx="2.7" ry="5.3" fill="#bccfea"/>
<ellipse cx="1017.0" cy="386.0" rx="2.7" ry="3.3" fill="#bccfea"/>
<ellipse cx="1056.0" cy="380.0" rx="2.7" ry="3.3" fill="#cfe0f5"/>
<ellipse cx="1129.0" cy="301.0" rx="3.3" ry="4.3" fill="#bccfea"/>
<ellipse cx="1166.0" cy="292.0" rx="8.3" ry="4.3" fill="#bccfea"/>
<ellipse cx="1079.0" cy="368.0" rx="2.7" ry="4.3" fill="#bccfea"/>
<ellipse cx="1129.0" cy="388.0" rx="2.7" ry="3.3" fill="#bccfea"/>
<ellipse cx="1216.0" cy="338.0" rx="3.3" ry="8.3" fill="#cfe0f5"/>
<ellipse cx="1099.0" cy="442.0" rx="3.3" ry="5.3" fill="#cfe0f5"/>
<ellipse cx="1136.0" cy="458.0" rx="2.7" ry="8.3" fill="#cfe0f5"/>
<ellipse cx="194.0" cy="510.0" rx="6.7" ry="25.3" fill="#e9a758" transform="rotate(-38 194.0 510.0)"/>
<ellipse cx="224.0" cy="536.0" rx="6.3" ry="12.3" fill="#f6e4d6" transform="rotate(-38 224.0 536.0)"/>
<ellipse cx="428.0" cy="519.0" rx="13.3" ry="8.3" fill="#f0c7a0" transform="rotate(15 428.0 519.0)"/>
<ellipse cx="432.0" cy="531.0" rx="6.3" ry="4.3" fill="#e9a758"/>
<ellipse cx="281.0" cy="612.0" rx="5.3" ry="8.3" fill="#e9a758" transform="rotate(15 281.0 612.0)"/>
<ellipse cx="286.0" cy="592.0" rx="8.3" ry="12.3" fill="#f6e4d6" transform="rotate(15 286.0 592.0)"/>
<ellipse cx="419.0" cy="620.0" rx="6.7" ry="15.3" fill="#e9a758" transform="rotate(-15 419.0 620.0)"/>
<ellipse cx="234.0" cy="608.0" rx="8.3" ry="3.3" fill="#f6e4d6" transform="rotate(-30 234.0 608.0)"/>
<ellipse cx="368.0" cy="498.0" rx="3.3" ry="5.3" fill="#f6e4d6"/>
<ellipse cx="350.0" cy="489.0" rx="6.7" ry="11.9" fill="#8a9fc7"/>
<ellipse cx="340.4" cy="514.0" rx="8.7" ry="19.9" fill="#8a9fc7" transform="rotate(22 340.4 514.0)"/>
<ellipse cx="332.0" cy="538.0" rx="9.9" ry="15.9" fill="#8a9fc7" transform="rotate(8 332.0 538.0)"/>
<ellipse cx="336.0" cy="528.0" rx="5.3" ry="12.3" fill="#5a6f9e" transform="rotate(15 336.0 528.0)"/>
<ellipse cx="346.0" cy="544.0" rx="6.3" ry="6.3" fill="#bccfea"/>
<ellipse cx="373.0" cy="517.0" rx="6.3" ry="6.3" fill="#a3b7d8" transform="rotate(30 373.0 517.0)"/>
<ellipse cx="390.0" cy="537.0" rx="4.3" ry="4.3" fill="#cfe0f5"/>
<ellipse cx="210.0" cy="590.0" rx="8.7" ry="21.3" fill="#8a9fc7" transform="rotate(-3 210.0 590.0)"/>
<ellipse cx="235.0" cy="569.0" rx="5.3" ry="4.3" fill="#bccfea"/>
<ellipse cx="308.0" cy="585.0" rx="6.3" ry="4.7" fill="#bccfea" transform="rotate(10 308.0 585.0)"/>
<ellipse cx="257.0" cy="612.0" rx="7.3" ry="8.3" fill="#a3b7d8" transform="rotate(25 257.0 612.0)"/>
<ellipse cx="363.0" cy="608.0" rx="11.3" ry="9.3" fill="#a3b7d8" transform="rotate(-10 363.0 608.0)"/>
<ellipse cx="376.0" cy="598.0" rx="8.3" ry="4.3" fill="#cfe0f5" transform="rotate(-20 376.0 598.0)"/>
<ellipse cx="392.0" cy="624.0" rx="7.3" ry="10.3" fill="#a3b7d8" transform="rotate(15 392.0 624.0)"/>
<ellipse cx="397.0" cy="640.0" rx="5.3" ry="8.3" fill="#cfe0f5"/>
<ellipse cx="441.0" cy="608.0" rx="7.3" ry="14.3" fill="#a3b7d8" transform="rotate(-25 441.0 608.0)"/>
<ellipse cx="266.0" cy="490.0" rx="4.3" ry="5.3" fill="#cfe0f5" transform="rotate(20 266.0 490.0)"/>
<ellipse cx="308.0" cy="479.0" rx="5.3" ry="2.7" fill="#bccfea"/>
<ellipse cx="338.0" cy="590.0" rx="6.3" ry="3.3" fill="#cfe0f5" transform="rotate(-10 338.0 590.0)"/>
<ellipse cx="445.0" cy="664.0" rx="3.3" ry="5.3" fill="#cfe0f5"/>
<ellipse cx="322.0" cy="650.0" rx="5.3" ry="6.3" fill="#cfe0f5"/>
<ellipse cx="468.0" cy="479.0" rx="4.3" ry="3.3" fill="#e9a758"/>
<ellipse cx="522.0" cy="528.0" rx="12.3" ry="14.3" fill="#f0c7a0"/>
<ellipse cx="522.0" cy="504.0" rx="4.3" ry="14.3" fill="#f0c7a0"/>
<ellipse cx="536.0" cy="554.0" rx="6.3" ry="14.3" fill="#f0c7a0" transform="rotate(-20 536.0 554.0)"/>
<ellipse cx="544.0" cy="542.0" rx="6.3" ry="5.3" fill="#f0c7a0" transform="rotate(-30 544.0 542.0)"/>
<ellipse cx="588.0" cy="505.0" rx="5.9" ry="12.3" fill="#e07b0e" transform="rotate(-10 588.0 505.0)"/>
<ellipse cx="702.0" cy="526.0" rx="17.3" ry="12.7" fill="#e9a758" transform="rotate(10 702.0 526.0)"/>
<ellipse cx="688.0" cy="516.0" rx="7.3" ry="7.3" fill="#ee5508"/>
<ellipse cx="706.0" cy="528.0" rx="12.3" ry="7.3" fill="#e07b0e" transform="rotate(10 706.0 528.0)"/>
<ellipse cx="694.0" cy="538.0" rx="6.3" ry="4.3" fill="#e9a758"/>
<ellipse cx="596.0" cy="612.0" rx="9.3" ry="10.3" fill="#f0c7a0" transform="rotate(20 596.0 612.0)"/>
<ellipse cx="606.0" cy="600.0" rx="6.3" ry="4.3" fill="#f0c7a0" transform="rotate(-30 606.0 600.0)"/>
<ellipse cx="677.0" cy="594.0" rx="3.3" ry="3.3" fill="#f0c7a0" transform="rotate(-30 677.0 594.0)"/>
<ellipse cx="716.0" cy="596.0" rx="2.3" ry="3.3" fill="#f0c7a0"/>
<ellipse cx="491.0" cy="652.0" rx="2.3" ry="10.3" fill="#f4dcc6"/>
<ellipse cx="471.0" cy="614.0" rx="4.3" ry="7.3" fill="#f6e4d6" transform="rotate(-30 471.0 614.0)"/>
<ellipse cx="457.0" cy="521.0" rx="6.3" ry="2.7" fill="#f4dcc6" transform="rotate(-35 457.0 521.0)"/>
<ellipse cx="566.0" cy="526.0" rx="4.3" ry="2.3" fill="#f4dcc6" transform="rotate(-20 566.0 526.0)"/>
<ellipse cx="558.0" cy="587.0" rx="2.7" ry="4.3" fill="#f6e4d6"/>
<ellipse cx="629.0" cy="538.0" rx="3.3" ry="4.3" fill="#f6e4d6"/>
<ellipse cx="618.0" cy="634.0" rx="3.3" ry="3.3" fill="#f6e4d6"/>
<ellipse cx="506.0" cy="496.0" rx="8.3" ry="22.3" fill="#8a9fc7" transform="rotate(22 506.0 496.0)"/>
<ellipse cx="491.0" cy="525.0" rx="7.3" ry="7.3" fill="#a3b7d8"/>
<ellipse cx="557.0" cy="492.0" rx="4.3" ry="8.3" fill="#a3b7d8" transform="rotate(10 557.0 492.0)"/>
<ellipse cx="603.0" cy="528.0" rx="13.3" ry="11.3" fill="#8a9fc7" transform="rotate(-20 603.0 528.0)"/>
<ellipse cx="614.0" cy="541.0" rx="6.3" ry="4.3" fill="#8a9fc7"/>
<ellipse cx="592.0" cy="548.0" rx="6.3" ry="6.3" fill="#bccfea"/>
<ellipse cx="570.0" cy="546.0" rx="5.3" ry="5.3" fill="#bccfea"/>
<ellipse cx="668.0" cy="520.0" rx="8.3" ry="26.3" fill="#5a6f9e" transform="rotate(28 668.0 520.0)"/>
<ellipse cx="691.0" cy="484.0" rx="7.3" ry="10.3" fill="#8a9fc7" transform="rotate(20 691.0 484.0)"/>
<ellipse cx="641.0" cy="528.0" rx="7.3" ry="16.3" fill="#a3b7d8" transform="rotate(-25 641.0 528.0)"/>
<ellipse cx="635.0" cy="553.0" rx="7.3" ry="11.3" fill="#8a9fc7" transform="rotate(30 635.0 553.0)"/>
<ellipse cx="655.0" cy="494.0" rx="5.3" ry="10.3" fill="#a3b7d8" transform="rotate(-5 655.0 494.0)"/>
<ellipse cx="614.0" cy="564.0" rx="6.3" ry="2.7" fill="#bccfea" transform="rotate(-25 614.0 564.0)"/>
<ellipse cx="478.0" cy="575.0" rx="9.3" ry="8.3" fill="#a3b7d8"/>
<ellipse cx="501.0" cy="582.0" rx="9.3" ry="14.3" fill="#8a9fc7" transform="rotate(-20 501.0 582.0)"/>
<ellipse cx="520.0" cy="606.0" rx="11.3" ry="12.3" fill="#a3b7d8" transform="rotate(-20 520.0 606.0)"/>
<ellipse cx="454.0" cy="624.0" rx="7.3" ry="14.3" fill="#a3b7d8" transform="rotate(-25 454.0 624.0)"/>
<ellipse cx="697.0" cy="597.0" rx="7.3" ry="10.3" fill="#8a9fc7" transform="rotate(-10 697.0 597.0)"/>
<ellipse cx="666.0" cy="646.0" rx="5.3" ry="18.3" fill="#a3b7d8" transform="rotate(5 666.0 646.0)"/>
<ellipse cx="658.0" cy="595.0" rx="5.3" ry="3.3" fill="#bccfea" transform="rotate(-15 658.0 595.0)"/>
<ellipse cx="476.0" cy="650.0" rx="2.7" ry="6.3" fill="#bccfea"/>
<ellipse cx="576.0" cy="621.0" rx="3.3" ry="3.3" fill="#bccfea"/>
<ellipse cx="591.0" cy="636.0" rx="3.3" ry="3.3" fill="#cfe0f5"/>
<ellipse cx="548.0" cy="650.0" rx="3.3" ry="6.3" fill="#cfe0f5"/>
<ellipse cx="715.0" cy="498.0" rx="3.3" ry="8.3" fill="#8a9fc7"/>
<ellipse cx="485.0" cy="500.0" rx="2.3" ry="2.3" fill="#bccfea"/>
<ellipse cx="743.0" cy="495.0" rx="5.9" ry="9.3" fill="#e9a758"/>
<ellipse cx="730.0" cy="482.0" rx="8.3" ry="5.3" fill="#f0c7a0"/>
<ellipse cx="758.0" cy="492.0" rx="8.3" ry="6.3" fill="#f4dcc6" transform="rotate(-40 758.0 492.0)"/>
<ellipse cx="762.0" cy="526.0" rx="4.7" ry="7.3" fill="#f0c7a0" transform="rotate(10 762.0 526.0)"/>
<ellipse cx="743.0" cy="536.0" rx="4.3" ry="3.3" fill="#f0c7a0" transform="rotate(30 743.0 536.0)"/>
<ellipse cx="761.0" cy="543.0" rx="5.3" ry="3.3" fill="#f0c7a0"/>
<ellipse cx="773.0" cy="551.0" rx="6.7" ry="7.3" fill="#e07b0e"/>
<ellipse cx="773.0" cy="552.0" rx="3.9" ry="4.3" fill="#ee5508"/>
<ellipse cx="809.0" cy="543.0" rx="3.3" ry="4.3" fill="#f0c7a0"/>
<ellipse cx="814.0" cy="552.0" rx="4.3" ry="4.3" fill="#e9a758"/>
<ellipse cx="829.0" cy="536.0" rx="3.3" ry="3.3" fill="#f0c7a0"/>
<ellipse cx="816.0" cy="563.0" rx="6.3" ry="4.3" fill="#f0c7a0" transform="rotate(30 816.0 563.0)"/>
<ellipse cx="806.0" cy="566.0" rx="8.3" ry="5.3" fill="#f6e4d6"/>
<ellipse cx="884.0" cy="516.0" rx="4.3" ry="10.3" fill="#f0c7a0" transform="rotate(20 884.0 516.0)"/>
<ellipse cx="896.0" cy="496.0" rx="2.7" ry="8.3" fill="#f0c7a0"/>
<ellipse cx="895.0" cy="531.0" rx="7.9" ry="8.7" fill="#e07b0e" transform="rotate(-20 895.0 531.0)"/>
<ellipse cx="895.0" cy="531.6" rx="5.3" ry="5.9" fill="#ee5508" transform="rotate(-20 895.0 531.6)"/>
<ellipse cx="886.0" cy="524.0" rx="4.3" ry="3.3" fill="#e9a758"/>
<ellipse cx="924.0" cy="540.0" rx="11.3" ry="5.9" fill="#e07b0e" transform="rotate(10 924.0 540.0)"/>
<ellipse cx="907.0" cy="528.0" rx="5.3" ry="2.3" fill="#f0c7a0" transform="rotate(-30 907.0 528.0)"/>
<ellipse cx="975.0" cy="540.0" rx="4.3" ry="4.3" fill="#f0c7a0"/>
<ellipse cx="962.0" cy="549.0" rx="6.3" ry="2.7" fill="#f0c7a0"/>
<ellipse cx="920.0" cy="512.0" rx="10.3" ry="5.3" fill="#f4dcc6" transform="rotate(-30 920.0 512.0)"/>
<ellipse cx="946.0" cy="498.0" rx="3.3" ry="6.3" fill="#f4dcc6" transform="rotate(20 946.0 498.0)"/>
<ellipse cx="857.0" cy="608.0" rx="3.3" ry="22.3" fill="#f4dcc6" transform="rotate(-35 857.0 608.0)"/>
<ellipse cx="720.0" cy="595.0" rx="2.7" ry="4.3" fill="#f0c7a0"/>
<ellipse cx="724.0" cy="641.0" rx="4.3" ry="4.3" fill="#f4dcc6"/>
<ellipse cx="976.0" cy="592.0" rx="4.3" ry="6.3" fill="#f6e4d6"/>
<ellipse cx="776.0" cy="578.0" rx="3.3" ry="6.3" fill="#f6e4d6"/>
<ellipse cx="804.0" cy="524.0" rx="3.3" ry="6.3" fill="#f6e4d6" transform="rotate(20 804.0 524.0)"/>
<ellipse cx="844.0" cy="524.0" rx="4.3" ry="2.7" fill="#f6e4d6" transform="rotate(-30 844.0 524.0)"/>
<ellipse cx="719.0" cy="494.0" rx="3.3" ry="6.3" fill="#8a9fc7"/>
<ellipse cx="782.0" cy="528.0" rx="5.3" ry="8.3" fill="#8a9fc7" transform="rotate(-15 782.0 528.0)"/>
<ellipse cx="788.0" cy="554.0" rx="3.9" ry="4.7" fill="#8a9fc7"/>
<ellipse cx="831.0" cy="515.0" rx="4.7" ry="10.3" fill="#a3b7d8"/>
<ellipse cx="867.0" cy="508.0" rx="5.3" ry="16.3" fill="#8a9fc7" transform="rotate(15 867.0 508.0)"/>
<ellipse cx="864.0" cy="530.0" rx="9.3" ry="10.3" fill="#5a6f9e"/>
<ellipse cx="876.0" cy="537.0" rx="9.3" ry="6.3" fill="#5a6f9e" transform="rotate(-25 876.0 537.0)"/>
<ellipse cx="846.0" cy="546.0" rx="10.3" ry="4.3" fill="#8a9fc7" transform="rotate(-15 846.0 546.0)"/>
<ellipse cx="827.0" cy="553.0" rx="4.3" ry="1.9" fill="#bccfea" transform="rotate(-10 827.0 553.0)"/>
<ellipse cx="748.0" cy="580.0" rx="11.3" ry="19.3" fill="#8a9fc7" transform="rotate(-15 748.0 580.0)"/>
<ellipse cx="758.0" cy="606.0" rx="6.3" ry="10.3" fill="#bccfea" transform="rotate(-15 758.0 606.0)"/>
<ellipse cx="835.0" cy="621.0" rx="8.3" ry="6.3" fill="#a3b7d8" transform="rotate(15 835.0 621.0)"/>
<ellipse cx="888.0" cy="594.0" rx="6.3" ry="9.3" fill="#a3b7d8" transform="rotate(-25 888.0 594.0)"/>
<ellipse cx="898.0" cy="614.0" rx="6.3" ry="11.3" fill="#a3b7d8" transform="rotate(-10 898.0 614.0)"/>
<ellipse cx="945.0" cy="590.0" rx="10.3" ry="13.3" fill="#a3b7d8" transform="rotate(-25 945.0 590.0)"/>
<ellipse cx="830.0" cy="662.0" rx="5.3" ry="11.3" fill="#a3b7d8"/>
<ellipse cx="758.0" cy="647.0" rx="3.3" ry="7.3" fill="#bccfea"/>
<ellipse cx="915.0" cy="486.0" rx="3.3" ry="4.3" fill="#bccfea"/>
<ellipse cx="985.0" cy="518.0" rx="4.3" ry="8.3" fill="#bccfea"/>
<ellipse cx="945.0" cy="536.0" rx="3.3" ry="1.9" fill="#bccfea" transform="rotate(-30 945.0 536.0)"/>
<ellipse cx="798.0" cy="482.0" rx="2.3" ry="4.3" fill="#cfe0f5"/>
<ellipse cx="938.0" cy="660.0" rx="3.3" ry="4.3" fill="#cfe0f5"/>
<ellipse cx="862.0" cy="670.0" rx="4.3" ry="6.3" fill="#cfe0f5" transform="rotate(20 862.0 670.0)"/>
<ellipse cx="799.0" cy="662.0" rx="2.7" ry="5.3" fill="#cfe0f5"/>
<ellipse cx="1014.0" cy="530.0" rx="7.9" ry="17.3" fill="#e9a758" transform="rotate(10 1014.0 530.0)"/>
<ellipse cx="1009.6" cy="548.0" rx="8.7" ry="11.3" fill="#e07b0e"/>
<ellipse cx="1009.6" cy="550.0" rx="5.5" ry="6.7" fill="#ee5508"/>
<ellipse cx="1019.0" cy="561.0" rx="9.3" ry="3.9" fill="#e9a758" transform="rotate(30 1019.0 561.0)"/>
<ellipse cx="1068.0" cy="498.0" rx="6.3" ry="11.3" fill="#f0c7a0" transform="rotate(10 1068.0 498.0)"/>
<ellipse cx="1080.0" cy="518.0" rx="5.3" ry="4.7" fill="#e9a758"/>
<ellipse cx="1105.0" cy="524.0" rx="7.3" ry="9.3" fill="#f0c7a0"/>
<ellipse cx="1102.0" cy="541.0" rx="7.3" ry="8.3" fill="#f0c7a0"/>
<ellipse cx="1135.0" cy="550.0" rx="8.3" ry="8.7" fill="#e07b0e"/>
<ellipse cx="1171.0" cy="544.0" rx="10.3" ry="11.3" fill="#e9a758"/>
<ellipse cx="1166.0" cy="562.0" rx="13.3" ry="12.3" fill="#e07b0e"/>
<ellipse cx="1166.0" cy="563.0" rx="7.3" ry="7.3" fill="#ee5508"/>
<ellipse cx="1185.0" cy="544.0" rx="5.3" ry="8.3" fill="#e9a758"/>
<ellipse cx="1182.0" cy="558.0" rx="8.3" ry="6.3" fill="#f0c7a0"/>
<ellipse cx="1196.0" cy="564.0" rx="11.3" ry="6.3" fill="#e9a758" transform="rotate(30 1196.0 564.0)"/>
<ellipse cx="1201.0" cy="573.0" rx="8.3" ry="5.3" fill="#e9a758" transform="rotate(30 1201.0 573.0)"/>
<ellipse cx="1128.0" cy="500.0" rx="2.3" ry="6.3" fill="#f4dcc6" transform="rotate(10 1128.0 500.0)"/>
<ellipse cx="1178.0" cy="504.0" rx="2.3" ry="10.3" fill="#f6e4d6"/>
<ellipse cx="993.0" cy="493.0" rx="3.3" ry="3.3" fill="#f6e4d6"/>
<ellipse cx="1026.0" cy="582.0" rx="4.3" ry="4.3" fill="#f6e4d6"/>
<ellipse cx="1058.0" cy="598.0" rx="8.3" ry="12.3" fill="#f6e4d6"/>
<ellipse cx="1171.0" cy="664.0" rx="3.3" ry="6.3" fill="#f4dcc6"/>
<ellipse cx="1150.0" cy="656.0" rx="2.7" ry="5.3" fill="#f6e4d6"/>
<ellipse cx="1030.0" cy="644.0" rx="4.3" ry="6.3" fill="#f6e4d6"/>
<ellipse cx="1076.0" cy="548.0" rx="2.7" ry="4.3" fill="#f6e4d6"/>
<ellipse cx="1079.0" cy="569.0" rx="1.9" ry="4.3" fill="#f6e4d6"/>
<ellipse cx="1016.0" cy="487.0" rx="4.3" ry="4.3" fill="#a3b7d8"/>
<ellipse cx="988.0" cy="520.0" rx="5.3" ry="7.3" fill="#a3b7d8" transform="rotate(-10 988.0 520.0)"/>
<ellipse cx="1052.0" cy="521.0" rx="9.9" ry="15.3" fill="#8a9fc7" transform="rotate(10 1052.0 521.0)"/>
<ellipse cx="1043.0" cy="545.0" rx="13.3" ry="12.3" fill="#8a9fc7" transform="rotate(-10 1043.0 545.0)"/>
<ellipse cx="1038.0" cy="550.0" rx="7.3" ry="7.3" fill="#5a6f9e"/>
<ellipse cx="1041.0" cy="565.0" rx="6.7" ry="9.9" fill="#8a9fc7"/>
<ellipse cx="1058.0" cy="536.0" rx="6.3" ry="8.3" fill="#a3b7d8"/>
<ellipse cx="1108.0" cy="495.0" rx="5.3" ry="9.3" fill="#a3b7d8" transform="rotate(20 1108.0 495.0)"/>
<ellipse cx="1114.0" cy="554.0" rx="4.7" ry="8.3" fill="#8a9fc7"/>
<ellipse cx="1092.0" cy="570.0" rx="5.3" ry="8.3" fill="#a3b7d8" transform="rotate(10 1092.0 570.0)"/>
<ellipse cx="1155.0" cy="543.0" rx="3.3" ry="7.3" fill="#bccfea" transform="rotate(25 1155.0 543.0)"/>
<ellipse cx="1220.0" cy="546.0" rx="5.3" ry="12.3" fill="#8a9fc7" transform="rotate(10 1220.0 546.0)"/>
<ellipse cx="1216.0" cy="556.0" rx="4.3" ry="4.3" fill="#8a9fc7"/>
<ellipse cx="995.0" cy="576.0" rx="7.3" ry="8.3" fill="#bccfea"/>
<ellipse cx="992.0" cy="584.0" rx="4.3" ry="6.3" fill="#bccfea"/>
<ellipse cx="1043.0" cy="594.0" rx="3.3" ry="5.3" fill="#bccfea" transform="rotate(10 1043.0 594.0)"/>
<ellipse cx="1032.0" cy="618.0" rx="4.7" ry="10.3" fill="#a3b7d8" transform="rotate(-15 1032.0 618.0)"/>
<ellipse cx="1096.0" cy="627.0" rx="5.3" ry="10.3" fill="#a3b7d8" transform="rotate(5 1096.0 627.0)"/>
<ellipse cx="1110.0" cy="598.0" rx="5.3" ry="2.7" fill="#bccfea" transform="rotate(30 1110.0 598.0)"/>
<ellipse cx="1144.0" cy="626.0" rx="5.3" ry="10.3" fill="#a3b7d8"/>
<ellipse cx="1137.0" cy="658.0" rx="8.3" ry="14.3" fill="#8a9fc7" transform="rotate(10 1137.0 658.0)"/>
<ellipse cx="1174.0" cy="620.0" rx="7.3" ry="20.3" fill="#a3b7d8" transform="rotate(20 1174.0 620.0)"/>
<ellipse cx="1188.0" cy="606.0" rx="10.3" ry="8.3" fill="#8a9fc7"/>
<ellipse cx="1196.0" cy="630.0" rx="10.3" ry="22.3" fill="#5a6f9e" transform="rotate(-20 1196.0 630.0)"/>
<ellipse cx="1204.0" cy="654.0" rx="10.3" ry="10.3" fill="#8a9fc7" transform="rotate(-20 1204.0 654.0)"/>
<ellipse cx="1208.0" cy="668.0" rx="22.3" ry="11.3" fill="#8a9fc7"/>
<ellipse cx="1184.0" cy="670.0" rx="14.3" ry="8.3" fill="#a3b7d8"/>
<ellipse cx="1173.0" cy="596.0" rx="5.3" ry="5.3" fill="#bccfea"/>
<ellipse cx="1025.0" cy="497.0" rx="2.7" ry="3.3" fill="#bccfea"/>
<ellipse cx="1208.0" cy="516.0" rx="2.3" ry="4.3" fill="#cfe0f5"/>
<ellipse cx="1015.0" cy="670.0" rx="6.3" ry="4.3" fill="#cfe0f5"/>
<ellipse cx="1046.0" cy="662.0" rx="3.3" ry="6.3" fill="#cfe0f5"/>
<ellipse cx="1069.0" cy="564.0" rx="2.3" ry="4.3" fill="#cfe0f5"/>
</g>
<g filter="url(#b2)">
<ellipse cx="379.6" cy="296.0" rx="4.3" ry="6.8" fill="#e07b0e" transform="rotate(15 379.6 296.0)"/>
<ellipse cx="372.0" cy="316.0" rx="5.8" ry="6.1" fill="#e8a355"/>
<ellipse cx="317.4" cy="329.0" rx="4.6" ry="8.4" fill="#e07b0e" transform="rotate(-5 317.4 329.0)"/>
<ellipse cx="267.0" cy="346.0" rx="3.8" ry="9.1" fill="#e07b0e" transform="rotate(-5 267.0 346.0)"/>
<ellipse cx="298.6" cy="352.0" rx="2.3" ry="6.1" fill="#e8a355" transform="rotate(5 298.6 352.0)"/>
<ellipse cx="229.0" cy="368.0" rx="5.8" ry="6.8" fill="#e8a355"/>
<ellipse cx="254.0" cy="408.0" rx="2.1" ry="6.8" fill="#e8a355"/>
<ellipse cx="236.0" cy="462.0" rx="9.9" ry="14.4" fill="#e07b0e" transform="rotate(10 236.0 462.0)"/>
<ellipse cx="229.0" cy="466.0" rx="3.8" ry="4.6" fill="#e8650a"/>
<ellipse cx="388.0" cy="432.0" rx="9.9" ry="5.3" fill="#e07b0e" transform="rotate(-25 388.0 432.0)"/>
<ellipse cx="397.0" cy="420.0" rx="2.3" ry="6.1" fill="#e07b0e" transform="rotate(10 397.0 420.0)"/>
<ellipse cx="370.0" cy="455.0" rx="7.6" ry="2.7" fill="#e07b0e" transform="rotate(-45 370.0 455.0)"/>
<ellipse cx="406.0" cy="445.0" rx="3.8" ry="1.5" fill="#e8a355" transform="rotate(15 406.0 445.0)"/>
<ellipse cx="289.0" cy="480.0" rx="3.8" ry="5.3" fill="#e07b0e" transform="rotate(20 289.0 480.0)"/>
<ellipse cx="410.0" cy="289.0" rx="4.6" ry="2.3" fill="#e07b0e"/>
<ellipse cx="333.0" cy="304.0" rx="2.3" ry="6.1" fill="#e8a355" transform="rotate(5 333.0 304.0)"/>
<ellipse cx="179.0" cy="298.0" rx="1.8" ry="6.1" fill="#e8a355"/>
<ellipse cx="196.0" cy="294.0" rx="3.8" ry="4.6" fill="#95aacf"/>
<ellipse cx="284.0" cy="308.0" rx="5.3" ry="6.8" fill="#5a6f9e" transform="rotate(10 284.0 308.0)"/>
<ellipse cx="278.0" cy="296.0" rx="2.7" ry="4.6" fill="#95aacf" transform="rotate(-20 278.0 296.0)"/>
<ellipse cx="359.0" cy="293.0" rx="7.6" ry="5.3" fill="#5a6f9e"/>
<ellipse cx="348.0" cy="320.0" rx="4.6" ry="7.6" fill="#5a6f9e"/>
<ellipse cx="387.0" cy="356.0" rx="6.8" ry="12.2" fill="#5a6f9e" transform="rotate(-15 387.0 356.0)"/>
<ellipse cx="374.0" cy="393.0" rx="3.0" ry="4.6" fill="#5a6f9e" transform="rotate(10 374.0 393.0)"/>
<ellipse cx="208.0" cy="417.0" rx="3.0" ry="10.6" fill="#5a6f9e" transform="rotate(-5 208.0 417.0)"/>
<ellipse cx="281.0" cy="437.0" rx="5.3" ry="6.1" fill="#5a6f9e" transform="rotate(-20 281.0 437.0)"/>
<ellipse cx="363.0" cy="435.0" rx="4.3" ry="5.3" fill="#5a6f9e" transform="rotate(20 363.0 435.0)"/>
<ellipse cx="346.0" cy="452.0" rx="4.3" ry="6.8" fill="#5a6f9e"/>
<ellipse cx="384.0" cy="466.0" rx="10.6" ry="3.8" fill="#5a6f9e" transform="rotate(-30 384.0 466.0)"/>
<ellipse cx="352.0" cy="480.0" rx="6.1" ry="6.8" fill="#33456e"/>
<ellipse cx="349.0" cy="416.0" rx="4.6" ry="4.6" fill="#95aacf"/>
<ellipse cx="308.0" cy="477.0" rx="4.6" ry="3.0" fill="#95aacf"/>
<ellipse cx="445.0" cy="454.0" rx="3.0" ry="7.6" fill="#5a6f9e"/>
<ellipse cx="214.0" cy="466.0" rx="2.3" ry="2.3" fill="#95aacf"/>
<ellipse cx="179.0" cy="454.0" rx="1.8" ry="6.8" fill="#5a6f9e"/>
<ellipse cx="446.0" cy="404.0" rx="2.3" ry="3.0" fill="#95aacf"/>
<ellipse cx="498.0" cy="313.0" rx="4.3" ry="6.1" fill="#e07b0e"/>
<ellipse cx="586.0" cy="295.0" rx="6.8" ry="7.6" fill="#e07b0e" transform="rotate(20 586.0 295.0)"/>
<ellipse cx="623.0" cy="296.0" rx="3.0" ry="5.3" fill="#e07b0e"/>
<ellipse cx="649.0" cy="321.0" rx="4.6" ry="9.1" fill="#e07b0e" transform="rotate(25 649.0 321.0)"/>
<ellipse cx="638.0" cy="337.0" rx="6.1" ry="3.0" fill="#e8a355" transform="rotate(-20 638.0 337.0)"/>
<ellipse cx="592.0" cy="337.0" rx="5.3" ry="6.1" fill="#e8a355" transform="rotate(-30 592.0 337.0)"/>
<ellipse cx="595.0" cy="366.0" rx="6.1" ry="6.1" fill="#e8a355"/>
<ellipse cx="648.0" cy="365.0" rx="5.3" ry="3.8" fill="#e8a355" transform="rotate(-30 648.0 365.0)"/>
<ellipse cx="573.0" cy="388.0" rx="5.3" ry="9.9" fill="#e07b0e" transform="rotate(10 573.0 388.0)"/>
<ellipse cx="498.0" cy="380.0" rx="3.8" ry="7.6" fill="#e8a355" transform="rotate(-20 498.0 380.0)"/>
<ellipse cx="506.0" cy="396.0" rx="3.0" ry="3.8" fill="#e8a355"/>
<ellipse cx="488.0" cy="410.0" rx="3.8" ry="3.0" fill="#e8a355"/>
<ellipse cx="650.4" cy="433.0" rx="5.3" ry="7.6" fill="#e8650a"/>
<ellipse cx="467.0" cy="460.0" rx="7.3" ry="12.9" fill="#e07b0e" transform="rotate(5 467.0 460.0)"/>
<ellipse cx="571.0" cy="474.0" rx="6.4" ry="14.4" fill="#e07b0e"/>
<ellipse cx="571.0" cy="478.0" rx="4.0" ry="12.9" fill="#f52a08"/>
<ellipse cx="709.0" cy="464.0" rx="7.3" ry="10.9" fill="#e07b0e"/>
<ellipse cx="709.0" cy="464.0" rx="4.9" ry="7.9" fill="#f52a08"/>
<ellipse cx="511.0" cy="292.0" rx="4.3" ry="4.6" fill="#5a6f9e"/>
<ellipse cx="564.0" cy="300.0" rx="2.7" ry="10.6" fill="#95aacf" transform="rotate(-5 564.0 300.0)"/>
<ellipse cx="557.0" cy="331.0" rx="6.1" ry="8.4" fill="#5a6f9e"/>
<ellipse cx="606.0" cy="292.0" rx="3.8" ry="4.6" fill="#95aacf"/>
<ellipse cx="525.0" cy="352.0" rx="4.3" ry="11.4" fill="#7088b4" transform="rotate(5 525.0 352.0)"/>
<ellipse cx="479.0" cy="373.0" rx="3.0" ry="8.4" fill="#95aacf" transform="rotate(20 479.0 373.0)"/>
<ellipse cx="461.0" cy="399.0" rx="3.0" ry="6.1" fill="#5a6f9e"/>
<ellipse cx="451.0" cy="403.0" rx="2.3" ry="2.3" fill="#95aacf"/>
<ellipse cx="616.6" cy="400.0" rx="4.3" ry="6.1" fill="#5a6f9e"/>
<ellipse cx="514.0" cy="426.0" rx="2.3" ry="4.6" fill="#95aacf"/>
<ellipse cx="525.0" cy="467.0" rx="7.6" ry="7.6" fill="#5a6f9e" transform="rotate(-20 525.0 467.0)"/>
<ellipse cx="510.0" cy="480.0" rx="7.6" ry="3.8" fill="#5a6f9e" transform="rotate(-25 510.0 480.0)"/>
<ellipse cx="625.0" cy="428.0" rx="4.3" ry="9.1" fill="#5a6f9e" transform="rotate(-10 625.0 428.0)"/>
<ellipse cx="634.0" cy="448.0" rx="5.3" ry="10.6" fill="#5a6f9e" transform="rotate(-15 634.0 448.0)"/>
<ellipse cx="689.0" cy="466.0" rx="4.9" ry="11.4" fill="#33456e" transform="rotate(-5 689.0 466.0)"/>
<ellipse cx="693.0" cy="482.0" rx="4.6" ry="4.6" fill="#5a6f9e"/>
<ellipse cx="647.0" cy="300.0" rx="2.3" ry="2.3" fill="#95aacf"/>
<ellipse cx="449.0" cy="452.0" rx="1.8" ry="4.6" fill="#5a6f9e"/>
<ellipse cx="656.0" cy="483.0" rx="3.0" ry="2.3" fill="#95aacf"/>
<ellipse cx="784.0" cy="299.0" rx="3.3" ry="8.4" fill="#e07b0e" transform="rotate(-5 784.0 299.0)"/>
<ellipse cx="736.0" cy="294.0" rx="2.3" ry="6.1" fill="#e8a355" transform="rotate(20 736.0 294.0)"/>
<ellipse cx="723.0" cy="312.0" rx="3.8" ry="3.8" fill="#e8a355"/>
<ellipse cx="731.0" cy="365.0" rx="3.0" ry="3.8" fill="#e8a355"/>
<ellipse cx="820.0" cy="333.0" rx="3.8" ry="5.3" fill="#eec29a"/>
<ellipse cx="899.0" cy="350.0" rx="4.9" ry="15.2" fill="#e07b0e" transform="rotate(-8 899.0 350.0)"/>
<ellipse cx="904.0" cy="380.0" rx="4.6" ry="7.3" fill="#e8650a"/>
<ellipse cx="935.0" cy="314.0" rx="2.7" ry="4.6" fill="#e8a355" transform="rotate(10 935.0 314.0)"/>
<ellipse cx="952.0" cy="369.0" rx="6.8" ry="2.7" fill="#e07b0e" transform="rotate(-30 952.0 369.0)"/>
<ellipse cx="942.0" cy="360.0" rx="5.3" ry="1.8" fill="#e8a355" transform="rotate(40 942.0 360.0)"/>
<ellipse cx="954.0" cy="420.0" rx="1.8" ry="3.8" fill="#e8a355"/>
<ellipse cx="910.0" cy="455.0" rx="2.3" ry="3.8" fill="#eec29a"/>
<ellipse cx="816.0" cy="476.0" rx="2.3" ry="3.8" fill="#eec29a"/>
<ellipse cx="882.0" cy="354.0" rx="2.7" ry="5.3" fill="#95aacf" transform="rotate(25 882.0 354.0)"/>
<ellipse cx="918.0" cy="346.0" rx="3.8" ry="10.6" fill="#7088b4" transform="rotate(-15 918.0 346.0)"/>
<ellipse cx="928.0" cy="378.0" rx="11.4" ry="5.3" fill="#5a6f9e" transform="rotate(-35 928.0 378.0)"/>
<ellipse cx="951.0" cy="388.0" rx="6.1" ry="6.1" fill="#5a6f9e"/>
<ellipse cx="933.0" cy="405.0" rx="2.3" ry="5.3" fill="#95aacf"/>
<ellipse cx="971.0" cy="418.0" rx="2.7" ry="8.4" fill="#95aacf" transform="rotate(25 971.0 418.0)"/>
<ellipse cx="899.0" cy="452.0" rx="1.8" ry="3.8" fill="#7088b4" transform="rotate(20 899.0 452.0)"/>
<ellipse cx="1144.0" cy="297.0" rx="4.6" ry="5.3" fill="#e07b0e"/>
<ellipse cx="1193.0" cy="292.0" rx="4.6" ry="3.8" fill="#e8a355"/>
<ellipse cx="1198.0" cy="322.0" rx="5.0" ry="13.7" fill="#e07b0e" transform="rotate(15 1198.0 322.0)"/>
<ellipse cx="1190.0" cy="348.0" rx="5.0" ry="12.2" fill="#e07b0e" transform="rotate(10 1190.0 348.0)"/>
<ellipse cx="1189.6" cy="352.0" rx="3.3" ry="9.1" fill="#e8650a" transform="rotate(10 1189.6 352.0)"/>
<ellipse cx="1184.0" cy="370.0" rx="4.6" ry="10.6" fill="#e8650a" transform="rotate(5 1184.0 370.0)"/>
<ellipse cx="1184.4" cy="369.0" rx="2.6" ry="9.4" fill="#f52a08" transform="rotate(8 1184.4 369.0)"/>
<ellipse cx="1180.0" cy="386.0" rx="3.0" ry="6.1" fill="#e07b0e"/>
<ellipse cx="1107.0" cy="394.0" rx="4.3" ry="8.4" fill="#e8a355" transform="rotate(-10 1107.0 394.0)"/>
<ellipse cx="1113.0" cy="414.0" rx="3.3" ry="6.8" fill="#e8a355" transform="rotate(-15 1113.0 414.0)"/>
<ellipse cx="1006.0" cy="413.0" rx="6.1" ry="3.8" fill="#e8a355" transform="rotate(-25 1006.0 413.0)"/>
<ellipse cx="1170.0" cy="438.0" rx="3.8" ry="4.6" fill="#eec29a"/>
<ellipse cx="1195.0" cy="461.0" rx="3.0" ry="3.8" fill="#e8a355"/>
<ellipse cx="1025.0" cy="470.0" rx="2.3" ry="3.3" fill="#e8a355"/>
<ellipse cx="1081.0" cy="477.0" rx="3.0" ry="5.3" fill="#e8a355" transform="rotate(20 1081.0 477.0)"/>
<ellipse cx="1114.0" cy="374.0" rx="1.5" ry="2.3" fill="#e8a355"/>
<ellipse cx="1046.0" cy="365.0" rx="3.8" ry="6.8" fill="#5a6f9e" transform="rotate(30 1046.0 365.0)"/>
<ellipse cx="1036.0" cy="405.0" rx="3.3" ry="7.6" fill="#5a6f9e" transform="rotate(20 1036.0 405.0)"/>
<ellipse cx="971.0" cy="419.0" rx="3.8" ry="8.4" fill="#95aacf" transform="rotate(25 971.0 419.0)"/>
<ellipse cx="1098.0" cy="422.0" rx="3.8" ry="6.1" fill="#95aacf" transform="rotate(-10 1098.0 422.0)"/>
<ellipse cx="1142.0" cy="415.0" rx="4.6" ry="3.8" fill="#7088b4" transform="rotate(10 1142.0 415.0)"/>
<ellipse cx="1150.0" cy="428.0" rx="2.3" ry="1.5" fill="#95aacf"/>
<ellipse cx="1040.0" cy="458.0" rx="3.8" ry="9.1" fill="#5a6f9e" transform="rotate(-15 1040.0 458.0)"/>
<ellipse cx="1032.0" cy="448.0" rx="2.3" ry="3.0" fill="#95aacf"/>
<ellipse cx="1002.0" cy="475.0" rx="2.7" ry="3.8" fill="#95aacf"/>
<ellipse cx="1067.0" cy="448.0" rx="1.8" ry="2.3" fill="#95aacf"/>
<ellipse cx="1020.0" cy="426.0" rx="1.8" ry="3.8" fill="#95aacf"/>
<ellipse cx="1017.0" cy="386.0" rx="1.8" ry="2.3" fill="#95aacf"/>
<ellipse cx="1129.0" cy="301.0" rx="2.3" ry="3.0" fill="#95aacf"/>
<ellipse cx="1166.0" cy="292.0" rx="6.1" ry="3.0" fill="#95aacf"/>
<ellipse cx="1079.0" cy="368.0" rx="1.8" ry="3.0" fill="#95aacf"/>
<ellipse cx="1129.0" cy="388.0" rx="1.8" ry="2.3" fill="#95aacf"/>
<ellipse cx="194.0" cy="510.0" rx="4.9" ry="19.0" fill="#e07b0e" transform="rotate(-38 194.0 510.0)"/>
<ellipse cx="428.0" cy="519.0" rx="9.9" ry="6.1" fill="#e8a355" transform="rotate(15 428.0 519.0)"/>
<ellipse cx="432.0" cy="531.0" rx="4.6" ry="3.0" fill="#e07b0e"/>
<ellipse cx="281.0" cy="612.0" rx="3.8" ry="6.1" fill="#e07b0e" transform="rotate(15 281.0 612.0)"/>
<ellipse cx="419.0" cy="620.0" rx="4.9" ry="11.4" fill="#e07b0e" transform="rotate(-15 419.0 620.0)"/>
<ellipse cx="350.0" cy="489.0" rx="4.9" ry="8.8" fill="#5a6f9e"/>
<ellipse cx="340.4" cy="514.0" rx="6.4" ry="14.9" fill="#5a6f9e" transform="rotate(22 340.4 514.0)"/>
<ellipse cx="332.0" cy="538.0" rx="7.3" ry="11.9" fill="#5a6f9e" transform="rotate(8 332.0 538.0)"/>
<ellipse cx="336.0" cy="528.0" rx="3.8" ry="9.1" fill="#33456e" transform="rotate(15 336.0 528.0)"/>
<ellipse cx="346.0" cy="544.0" rx="4.6" ry="4.6" fill="#95aacf"/>
<ellipse cx="373.0" cy="517.0" rx="4.6" ry="4.6" fill="#7088b4" transform="rotate(30 373.0 517.0)"/>
<ellipse cx="210.0" cy="590.0" rx="6.4" ry="16.0" fill="#5a6f9e" transform="rotate(-3 210.0 590.0)"/>
<ellipse cx="235.0" cy="569.0" rx="3.8" ry="3.0" fill="#95aacf"/>
<ellipse cx="308.0" cy="585.0" rx="4.6" ry="3.3" fill="#95aacf" transform="rotate(10 308.0 585.0)"/>
<ellipse cx="257.0" cy="612.0" rx="5.3" ry="6.1" fill="#7088b4" transform="rotate(25 257.0 612.0)"/>
<ellipse cx="363.0" cy="608.0" rx="8.4" ry="6.8" fill="#7088b4" transform="rotate(-10 363.0 608.0)"/>
<ellipse cx="392.0" cy="624.0" rx="5.3" ry="7.6" fill="#7088b4" transform="rotate(15 392.0 624.0)"/>
<ellipse cx="441.0" cy="608.0" rx="5.3" ry="10.6" fill="#7088b4" transform="rotate(-25 441.0 608.0)"/>
<ellipse cx="308.0" cy="479.0" rx="3.8" ry="1.8" fill="#95aacf"/>
<ellipse cx="468.0" cy="479.0" rx="3.0" ry="2.3" fill="#e07b0e"/>
<ellipse cx="522.0" cy="528.0" rx="9.1" ry="10.6" fill="#e8a355"/>
<ellipse cx="522.0" cy="504.0" rx="3.0" ry="10.6" fill="#e8a355"/>
<ellipse cx="536.0" cy="554.0" rx="4.6" ry="10.6" fill="#e8a355" transform="rotate(-20 536.0 554.0)"/>
<ellipse cx="544.0" cy="542.0" rx="4.6" ry="3.8" fill="#e8a355" transform="rotate(-30 544.0 542.0)"/>
<ellipse cx="588.0" cy="505.0" rx="4.3" ry="9.1" fill="#e8650a" transform="rotate(-10 588.0 505.0)"/>
<ellipse cx="702.0" cy="526.0" rx="12.9" ry="9.4" fill="#e07b0e" transform="rotate(10 702.0 526.0)"/>
<ellipse cx="688.0" cy="516.0" rx="5.3" ry="5.3" fill="#f52a08"/>
<ellipse cx="706.0" cy="528.0" rx="9.1" ry="5.3" fill="#e8650a" transform="rotate(10 706.0 528.0)"/>
<ellipse cx="694.0" cy="538.0" rx="4.6" ry="3.0" fill="#e07b0e"/>
<ellipse cx="596.0" cy="612.0" rx="6.8" ry="7.6" fill="#e8a355" transform="rotate(20 596.0 612.0)"/>
<ellipse cx="606.0" cy="600.0" rx="4.6" ry="3.0" fill="#e8a355" transform="rotate(-30 606.0 600.0)"/>
<ellipse cx="677.0" cy="594.0" rx="2.3" ry="2.3" fill="#e8a355" transform="rotate(-30 677.0 594.0)"/>
<ellipse cx="716.0" cy="596.0" rx="1.5" ry="2.3" fill="#e8a355"/>
<ellipse cx="491.0" cy="652.0" rx="1.5" ry="7.6" fill="#eec29a"/>
<ellipse cx="457.0" cy="521.0" rx="4.6" ry="1.8" fill="#eec29a" transform="rotate(-35 457.0 521.0)"/>
<ellipse cx="566.0" cy="526.0" rx="3.0" ry="1.5" fill="#eec29a" transform="rotate(-20 566.0 526.0)"/>
<ellipse cx="506.0" cy="496.0" rx="6.1" ry="16.7" fill="#5a6f9e" transform="rotate(22 506.0 496.0)"/>
<ellipse cx="491.0" cy="525.0" rx="5.3" ry="5.3" fill="#7088b4"/>
<ellipse cx="557.0" cy="492.0" rx="3.0" ry="6.1" fill="#7088b4" transform="rotate(10 557.0 492.0)"/>
<ellipse cx="603.0" cy="528.0" rx="9.9" ry="8.4" fill="#5a6f9e" transform="rotate(-20 603.0 528.0)"/>
<ellipse cx="614.0" cy="541.0" rx="4.6" ry="3.0" fill="#5a6f9e"/>
<ellipse cx="592.0" cy="548.0" rx="4.6" ry="4.6" fill="#95aacf"/>
<ellipse cx="570.0" cy="546.0" rx="3.8" ry="3.8" fill="#95aacf"/>
<ellipse cx="668.0" cy="520.0" rx="6.1" ry="19.8" fill="#33456e" transform="rotate(28 668.0 520.0)"/>
<ellipse cx="691.0" cy="484.0" rx="5.3" ry="7.6" fill="#5a6f9e" transform="rotate(20 691.0 484.0)"/>
<ellipse cx="641.0" cy="528.0" rx="5.3" ry="12.2" fill="#7088b4" transform="rotate(-25 641.0 528.0)"/>
<ellipse cx="635.0" cy="553.0" rx="5.3" ry="8.4" fill="#5a6f9e" transform="rotate(30 635.0 553.0)"/>
<ellipse cx="655.0" cy="494.0" rx="3.8" ry="7.6" fill="#7088b4" transform="rotate(-5 655.0 494.0)"/>
<ellipse cx="614.0" cy="564.0" rx="4.6" ry="1.8" fill="#95aacf" transform="rotate(-25 614.0 564.0)"/>
<ellipse cx="478.0" cy="575.0" rx="6.8" ry="6.1" fill="#7088b4"/>
<ellipse cx="501.0" cy="582.0" rx="6.8" ry="10.6" fill="#5a6f9e" transform="rotate(-20 501.0 582.0)"/>
<ellipse cx="520.0" cy="606.0" rx="8.4" ry="9.1" fill="#7088b4" transform="rotate(-20 520.0 606.0)"/>
<ellipse cx="454.0" cy="624.0" rx="5.3" ry="10.6" fill="#7088b4" transform="rotate(-25 454.0 624.0)"/>
<ellipse cx="697.0" cy="597.0" rx="5.3" ry="7.6" fill="#5a6f9e" transform="rotate(-10 697.0 597.0)"/>
<ellipse cx="666.0" cy="646.0" rx="3.8" ry="13.7" fill="#7088b4" transform="rotate(5 666.0 646.0)"/>
<ellipse cx="658.0" cy="595.0" rx="3.8" ry="2.3" fill="#95aacf" transform="rotate(-15 658.0 595.0)"/>
<ellipse cx="476.0" cy="650.0" rx="1.8" ry="4.6" fill="#95aacf"/>
<ellipse cx="576.0" cy="621.0" rx="2.3" ry="2.3" fill="#95aacf"/>
<ellipse cx="715.0" cy="498.0" rx="2.3" ry="6.1" fill="#5a6f9e"/>
<ellipse cx="485.0" cy="500.0" rx="1.5" ry="1.5" fill="#95aacf"/>
<ellipse cx="743.0" cy="495.0" rx="4.3" ry="6.8" fill="#e07b0e"/>
<ellipse cx="730.0" cy="482.0" rx="6.1" ry="3.8" fill="#e8a355"/>
<ellipse cx="758.0" cy="492.0" rx="6.1" ry="4.6" fill="#eec29a" transform="rotate(-40 758.0 492.0)"/>
<ellipse cx="762.0" cy="526.0" rx="3.3" ry="5.3" fill="#e8a355" transform="rotate(10 762.0 526.0)"/>
<ellipse cx="743.0" cy="536.0" rx="3.0" ry="2.3" fill="#e8a355" transform="rotate(30 743.0 536.0)"/>
<ellipse cx="761.0" cy="543.0" rx="3.8" ry="2.3" fill="#e8a355"/>
<ellipse cx="773.0" cy="551.0" rx="4.9" ry="5.3" fill="#e8650a"/>
<ellipse cx="773.0" cy="552.0" rx="2.7" ry="3.0" fill="#f52a08"/>
<ellipse cx="809.0" cy="543.0" rx="2.3" ry="3.0" fill="#e8a355"/>
<ellipse cx="814.0" cy="552.0" rx="3.0" ry="3.0" fill="#e07b0e"/>
<ellipse cx="829.0" cy="536.0" rx="2.3" ry="2.3" fill="#e8a355"/>
<ellipse cx="816.0" cy="563.0" rx="4.6" ry="3.0" fill="#e8a355" transform="rotate(30 816.0 563.0)"/>
<ellipse cx="884.0" cy="516.0" rx="3.0" ry="7.6" fill="#e8a355" transform="rotate(20 884.0 516.0)"/>
<ellipse cx="896.0" cy="496.0" rx="1.8" ry="6.1" fill="#e8a355"/>
<ellipse cx="895.0" cy="531.0" rx="5.8" ry="6.4" fill="#e8650a" transform="rotate(-20 895.0 531.0)"/>
<ellipse cx="895.0" cy="531.6" rx="3.8" ry="4.3" fill="#f52a08" transform="rotate(-20 895.0 531.6)"/>
<ellipse cx="886.0" cy="524.0" rx="3.0" ry="2.3" fill="#e07b0e"/>
<ellipse cx="924.0" cy="540.0" rx="8.4" ry="4.3" fill="#e8650a" transform="rotate(10 924.0 540.0)"/>
<ellipse cx="907.0" cy="528.0" rx="3.8" ry="1.5" fill="#e8a355" transform="rotate(-30 907.0 528.0)"/>
<ellipse cx="975.0" cy="540.0" rx="3.0" ry="3.0" fill="#e8a355"/>
<ellipse cx="962.0" cy="549.0" rx="4.6" ry="1.8" fill="#e8a355"/>
<ellipse cx="920.0" cy="512.0" rx="7.6" ry="3.8" fill="#eec29a" transform="rotate(-30 920.0 512.0)"/>
<ellipse cx="946.0" cy="498.0" rx="2.3" ry="4.6" fill="#eec29a" transform="rotate(20 946.0 498.0)"/>
<ellipse cx="857.0" cy="608.0" rx="2.3" ry="16.7" fill="#eec29a" transform="rotate(-35 857.0 608.0)"/>
<ellipse cx="720.0" cy="595.0" rx="1.8" ry="3.0" fill="#e8a355"/>
<ellipse cx="724.0" cy="641.0" rx="3.0" ry="3.0" fill="#eec29a"/>
<ellipse cx="719.0" cy="494.0" rx="2.3" ry="4.6" fill="#5a6f9e"/>
<ellipse cx="782.0" cy="528.0" rx="3.8" ry="6.1" fill="#5a6f9e" transform="rotate(-15 782.0 528.0)"/>
<ellipse cx="788.0" cy="554.0" rx="2.7" ry="3.3" fill="#5a6f9e"/>
<ellipse cx="831.0" cy="515.0" rx="3.3" ry="7.6" fill="#7088b4"/>
<ellipse cx="867.0" cy="508.0" rx="3.8" ry="12.2" fill="#5a6f9e" transform="rotate(15 867.0 508.0)"/>
<ellipse cx="864.0" cy="530.0" rx="6.8" ry="7.6" fill="#33456e"/>
<ellipse cx="876.0" cy="537.0" rx="6.8" ry="4.6" fill="#33456e" transform="rotate(-25 876.0 537.0)"/>
<ellipse cx="846.0" cy="546.0" rx="7.6" ry="3.0" fill="#5a6f9e" transform="rotate(-15 846.0 546.0)"/>
<ellipse cx="827.0" cy="553.0" rx="3.0" ry="1.2" fill="#95aacf" transform="rotate(-10 827.0 553.0)"/>
<ellipse cx="748.0" cy="580.0" rx="8.4" ry="14.4" fill="#5a6f9e" transform="rotate(-15 748.0 580.0)"/>
<ellipse cx="758.0" cy="606.0" rx="4.6" ry="7.6" fill="#95aacf" transform="rotate(-15 758.0 606.0)"/>
<ellipse cx="835.0" cy="621.0" rx="6.1" ry="4.6" fill="#7088b4" transform="rotate(15 835.0 621.0)"/>
<ellipse cx="888.0" cy="594.0" rx="4.6" ry="6.8" fill="#7088b4" transform="rotate(-25 888.0 594.0)"/>
<ellipse cx="898.0" cy="614.0" rx="4.6" ry="8.4" fill="#7088b4" transform="rotate(-10 898.0 614.0)"/>
<ellipse cx="945.0" cy="590.0" rx="7.6" ry="9.9" fill="#7088b4" transform="rotate(-25 945.0 590.0)"/>
<ellipse cx="830.0" cy="662.0" rx="3.8" ry="8.4" fill="#7088b4"/>
<ellipse cx="758.0" cy="647.0" rx="2.3" ry="5.3" fill="#95aacf"/>
<ellipse cx="915.0" cy="486.0" rx="2.3" ry="3.0" fill="#95aacf"/>
<ellipse cx="985.0" cy="518.0" rx="3.0" ry="6.1" fill="#95aacf"/>
<ellipse cx="945.0" cy="536.0" rx="2.3" ry="1.2" fill="#95aacf" transform="rotate(-30 945.0 536.0)"/>
<ellipse cx="1014.0" cy="530.0" rx="5.8" ry="12.9" fill="#e07b0e" transform="rotate(10 1014.0 530.0)"/>
<ellipse cx="1009.6" cy="548.0" rx="6.4" ry="8.4" fill="#e8650a"/>
<ellipse cx="1009.6" cy="550.0" rx="4.0" ry="4.9" fill="#f52a08"/>
<ellipse cx="1019.0" cy="561.0" rx="6.8" ry="2.7" fill="#e07b0e" transform="rotate(30 1019.0 561.0)"/>
<ellipse cx="1068.0" cy="498.0" rx="4.6" ry="8.4" fill="#e8a355" transform="rotate(10 1068.0 498.0)"/>
<ellipse cx="1080.0" cy="518.0" rx="3.8" ry="3.3" fill="#e07b0e"/>
<ellipse cx="1105.0" cy="524.0" rx="5.3" ry="6.8" fill="#e8a355"/>
<ellipse cx="1102.0" cy="541.0" rx="5.3" ry="6.1" fill="#e8a355"/>
<ellipse cx="1135.0" cy="550.0" rx="6.1" ry="6.4" fill="#e8650a"/>
<ellipse cx="1171.0" cy="544.0" rx="7.6" ry="8.4" fill="#e07b0e"/>
<ellipse cx="1166.0" cy="562.0" rx="9.9" ry="9.1" fill="#e8650a"/>
<ellipse cx="1166.0" cy="563.0" rx="5.3" ry="5.3" fill="#f52a08"/>
<ellipse cx="1185.0" cy="544.0" rx="3.8" ry="6.1" fill="#e07b0e"/>
<ellipse cx="1182.0" cy="558.0" rx="6.1" ry="4.6" fill="#e8a355"/>
<ellipse cx="1196.0" cy="564.0" rx="8.4" ry="4.6" fill="#e07b0e" transform="rotate(30 1196.0 564.0)"/>
<ellipse cx="1201.0" cy="573.0" rx="6.1" ry="3.8" fill="#e07b0e" transform="rotate(30 1201.0 573.0)"/>
<ellipse cx="1128.0" cy="500.0" rx="1.5" ry="4.6" fill="#eec29a" transform="rotate(10 1128.0 500.0)"/>
<ellipse cx="1171.0" cy="664.0" rx="2.3" ry="4.6" fill="#eec29a"/>
<ellipse cx="1016.0" cy="487.0" rx="3.0" ry="3.0" fill="#7088b4"/>
<ellipse cx="988.0" cy="520.0" rx="3.8" ry="5.3" fill="#7088b4" transform="rotate(-10 988.0 520.0)"/>
<ellipse cx="1052.0" cy="521.0" rx="7.3" ry="11.4" fill="#5a6f9e" transform="rotate(10 1052.0 521.0)"/>
<ellipse cx="1043.0" cy="545.0" rx="9.9" ry="9.1" fill="#5a6f9e" transform="rotate(-10 1043.0 545.0)"/>
<ellipse cx="1038.0" cy="550.0" rx="5.3" ry="5.3" fill="#33456e"/>
<ellipse cx="1041.0" cy="565.0" rx="4.9" ry="7.3" fill="#5a6f9e"/>
<ellipse cx="1058.0" cy="536.0" rx="4.6" ry="6.1" fill="#7088b4"/>
<ellipse cx="1108.0" cy="495.0" rx="3.8" ry="6.8" fill="#7088b4" transform="rotate(20 1108.0 495.0)"/>
<ellipse cx="1114.0" cy="554.0" rx="3.3" ry="6.1" fill="#5a6f9e"/>
<ellipse cx="1092.0" cy="570.0" rx="3.8" ry="6.1" fill="#7088b4" transform="rotate(10 1092.0 570.0)"/>
<ellipse cx="1155.0" cy="543.0" rx="2.3" ry="5.3" fill="#95aacf" transform="rotate(25 1155.0 543.0)"/>
<ellipse cx="1220.0" cy="546.0" rx="3.8" ry="9.1" fill="#5a6f9e" transform="rotate(10 1220.0 546.0)"/>
<ellipse cx="1216.0" cy="556.0" rx="3.0" ry="3.0" fill="#5a6f9e"/>
<ellipse cx="995.0" cy="576.0" rx="5.3" ry="6.1" fill="#95aacf"/>
<ellipse cx="992.0" cy="584.0" rx="3.0" ry="4.6" fill="#95aacf"/>
<ellipse cx="1043.0" cy="594.0" rx="2.3" ry="3.8" fill="#95aacf" transform="rotate(10 1043.0 594.0)"/>
<ellipse cx="1032.0" cy="618.0" rx="3.3" ry="7.6" fill="#7088b4" transform="rotate(-15 1032.0 618.0)"/>
<ellipse cx="1096.0" cy="627.0" rx="3.8" ry="7.6" fill="#7088b4" transform="rotate(5 1096.0 627.0)"/>
<ellipse cx="1110.0" cy="598.0" rx="3.8" ry="1.8" fill="#95aacf" transform="rotate(30 1110.0 598.0)"/>
<ellipse cx="1144.0" cy="626.0" rx="3.8" ry="7.6" fill="#7088b4"/>
<ellipse cx="1137.0" cy="658.0" rx="6.1" ry="10.6" fill="#5a6f9e" transform="rotate(10 1137.0 658.0)"/>
<ellipse cx="1174.0" cy="620.0" rx="5.3" ry="15.2" fill="#7088b4" transform="rotate(20 1174.0 620.0)"/>
<ellipse cx="1188.0" cy="606.0" rx="7.6" ry="6.1" fill="#5a6f9e"/>
<ellipse cx="1196.0" cy="630.0" rx="7.6" ry="16.7" fill="#33456e" transform="rotate(-20 1196.0 630.0)"/>
<ellipse cx="1204.0" cy="654.0" rx="7.6" ry="7.6" fill="#5a6f9e" transform="rotate(-20 1204.0 654.0)"/>
<ellipse cx="1208.0" cy="668.0" rx="16.7" ry="8.4" fill="#5a6f9e"/>
<ellipse cx="1184.0" cy="670.0" rx="10.6" ry="6.1" fill="#7088b4"/>
<ellipse cx="1173.0" cy="596.0" rx="3.8" ry="3.8" fill="#95aacf"/>
<ellipse cx="1025.0" cy="497.0" rx="1.8" ry="2.3" fill="#95aacf"/>
</g>
</g>
<g filter="url(#b2)">
<ellipse cx="1008" cy="360" rx="8.5" ry="23" fill="#e07b0e"/>
<ellipse cx="1030" cy="383" rx="5" ry="10" fill="#e07b0e" transform="rotate(8 1030 383)"/>
<ellipse cx="1034" cy="352" rx="3.5" ry="14" fill="#e9a758"/>
<ellipse cx="986" cy="379" rx="9.5" ry="5" fill="#e07b0e" transform="rotate(-15 986 379)"/>
</g>
<g filter="url(#b1_5)">
<ellipse cx="1011" cy="352" rx="4" ry="17" fill="#f0400a" transform="rotate(-8 1011 352)"/>
<polygon points="1032.5,340.0 1033.0,350.0 1032.0,362.0 1029.0,370.0 1025.0,373.0 1020.0,370.0 1016.0,364.0 1014.5,354.0 1014.0,342.0 1010.0,333.0 1006.0,326.0 1003.5,320.0" fill="#ff1500" stroke="#ff1500" stroke-width="4" stroke-linejoin="round"/>
</g>
<g filter="url(#b2)">
<polygon points="992.0,317.5 1000.0,317.5 1004.0,325.0 1006.0,333.0 1004.0,343.0 998.0,350.0 992.0,355.0 990.0,364.0 985.5,370.0 977.5,377.5 970.0,381.5 963.5,385.0 960.0,383.0 960.5,379.0 964.0,371.0 968.5,364.0 970.0,356.0 969.5,350.0 965.5,342.0 963.5,333.0 964.5,326.0 970.0,322.5 982.0,321.5 984.0,320.5" fill="#c4d8f1" stroke="#c4d8f1" stroke-width="6" stroke-linejoin="round"/>
</g>
<g filter="url(#b1)">
<polygon points="992.0,317.5 1000.0,317.5 1004.0,325.0 1006.0,333.0 1004.0,343.0 998.0,350.0 992.0,355.0 990.0,364.0 985.5,370.0 977.5,377.5 970.0,381.5 963.5,385.0 960.0,383.0 960.5,379.0 964.0,371.0 968.5,364.0 970.0,356.0 969.5,350.0 965.5,342.0 963.5,333.0 964.5,326.0 970.0,322.5 982.0,321.5 984.0,320.5" fill="#2f4169" stroke="#2f4169" stroke-width="1" stroke-linejoin="round"/>
</g>
<polygon points="992.0,319.0 999.0,319.0 1002.0,326.0 1004.0,333.0 1002.0,342.0 996.0,348.0 990.0,353.0 988.0,362.0 984.0,368.0 976.0,375.0 970.0,379.0 965.5,378.0 965.0,374.0 969.0,368.0 972.0,360.0 972.5,352.0 974.0,345.0 980.0,342.0 987.0,340.0 990.0,334.0 988.0,328.0 984.0,324.5 984.0,322.5 992.0,322.5" fill="#3d3d3f" filter="url(#b0_6)"/>
<g filter="url(#b1)">
<ellipse cx="984" cy="332.5" rx="6.5" ry="8.5" fill="#8ea6cf"/>
<ellipse cx="984" cy="332.5" rx="4.6" ry="6.3" fill="#ffffff"/>
<ellipse cx="984.3" cy="333.5" rx="1.2" ry="2.4" fill="#f5c48a"/>
</g>
<polygon points="1004.0,315.0 1010.0,315.0 1011.0,318.5 1019.0,319.0 1020.0,322.0 1023.0,322.5 1024.0,326.0 1026.0,326.5 1026.5,330.0 1030.0,330.5 1030.5,334.0 1032.5,340.0 1033.0,350.0 1032.0,362.0 1029.0,370.0 1025.0,373.0 1020.0,370.0 1016.0,364.0 1014.5,354.0 1014.0,342.0 1010.0,333.0 1006.0,326.0 1003.5,320.0" fill="#a01230" filter="url(#b0_6)"/>
<g filter="url(#b2)"><polygon points="1185.5,581.2 1196.0,576.0 1202.4,582.5 1207.6,593.0 1218.0,598.0 1223.0,602.0 1208.0,607.0 1206.5,620.0 1202.4,617.6 1198.5,604.6 1192.0,594.0 1186.8,587.7" fill="#e8650a" stroke="#e8650a" stroke-width="5" stroke-linejoin="round"/></g>
<g filter="url(#b1_5)"><polygon points="1185.5,581.2 1196.0,576.0 1202.4,582.5 1207.6,593.0 1218.0,598.0 1223.0,602.0 1208.0,607.0 1206.5,620.0 1202.4,617.6 1198.5,604.6 1192.0,594.0 1186.8,587.7" fill="#f40a04" stroke="#f40a04" stroke-width="1.5" stroke-linejoin="round"/></g>
<polygon points="1206.3,606.0 1210.2,602.0 1216.7,600.7 1223.2,603.3 1226.0,605.3 1218.0,606.0 1218.0,609.2 1214.0,609.2 1214.0,613.0 1210.2,613.0 1210.2,617.0 1206.3,617.0 1205.7,611.0" fill="#a01230" filter="url(#b0_6)"/>
<g filter="url(#b1)"><ellipse cx="1057.5" cy="561.5" rx="6.8" ry="9.5" fill="#fbdcb4"/><ellipse cx="1057.5" cy="561.5" rx="5.6" ry="8.3" fill="#e8650a"/><ellipse cx="1054.5" cy="565.5" rx="2.5" ry="3.5" fill="#f52a08"/><ellipse cx="1053.5" cy="577.3" rx="5.5" ry="2.6" fill="#e8650a"/></g>
<polyline points="899.0,288.0 910.0,295.0 924.0,302.0 940.0,307.0 956.0,315.0 970.0,318.5 983.0,321.5 990.0,318.5 999.0,313.5 1008.0,314.0 1018.0,317.0 1026.0,321.5 1035.0,330.0 1046.0,340.0 1053.0,345.0 1060.0,348.0" fill="none" stroke="#fff" stroke-width="5.5" stroke-linejoin="miter" stroke-linecap="square"/>
<polyline points="1060.0,348.0 1070.0,348.5 1076.0,351.5 1081.0,356.0 1087.0,356.0 1094.0,359.5 1109.0,359.5 1112.0,356.5 1116.5,362.0 1112.0,363.0 1118.0,370.0 1128.0,380.0 1140.5,390.0 1140.5,399.0 1139.5,403.0 1141.5,409.0 1149.0,412.5 1154.0,409.0 1158.0,413.0 1167.0,418.0 1172.0,423.0 1171.0,430.0 1178.0,432.0 1182.0,435.5 1186.0,434.0 1196.0,436.0 1201.0,438.0 1205.0,442.0 1212.0,443.0 1213.5,451.0 1225.0,447.5 1234.0,445.0" fill="none" stroke="#fff" stroke-width="7" stroke-linejoin="miter" stroke-linecap="square"/>
<polyline points="1234.0,418.0 1225.0,421.0 1206.0,427.0 1200.0,423.5 1194.5,423.0 1192.0,416.5 1185.0,412.0 1180.0,408.0 1176.0,401.0 1172.0,395.0 1169.5,389.5 1171.5,384.0 1172.0,374.0 1174.0,366.0" fill="none" stroke="#fff" stroke-width="9" stroke-linejoin="miter" stroke-linecap="square"/>
<polyline points="1174.0,366.0 1174.5,350.0 1178.5,343.0 1178.5,333.0 1176.0,329.5 1170.0,327.0" fill="none" stroke="#fff" stroke-width="11" stroke-linejoin="miter" stroke-linecap="square"/>
<polyline points="1170.0,327.0 1163.0,320.5 1152.0,317.5 1144.0,319.0 1137.5,317.5 1130.0,320.0 1122.0,321.5 1113.0,319.0 1104.5,322.5 1092.5,316.5 1100.0,310.0" fill="none" stroke="#fff" stroke-width="7.5" stroke-linejoin="miter" stroke-linecap="square"/>
<polyline points="1100.0,310.0 1103.0,301.0 1103.5,288.0 1103.5,280.0" fill="none" stroke="#fff" stroke-width="14" stroke-linejoin="miter" stroke-linecap="square"/>
<polyline points="1234.0,559.0 1225.0,561.0 1221.3,562.4 1219.3,570.8 1213.5,574.0 1215.4,582.5 1214.8,592.3 1212.8,593.6 1220.0,597.5 1225.0,604.0 1228.0,607.5 1225.0,610.5 1215.4,615.7 1207.0,622.8 1207.6,630.6 1210.9,638.4 1214.8,643.6 1209.6,648.8 1218.0,654.0 1225.0,658.0 1234.0,662.0" fill="none" stroke="#fff" stroke-width="8" stroke-linejoin="miter" stroke-linecap="square"/>
<rect x="1049" y="568" width="18" height="8" fill="#fff"/>
<g fill="#808080" stroke="#000" stroke-width="1.1" stroke-linejoin="round">
<polygon points="899.0,280.0 899.0,288.0 910.0,295.0 924.0,302.0 940.0,307.0 956.0,315.0 970.0,318.5 983.0,321.5 990.0,318.5 999.0,313.5 1008.0,314.0 1018.0,317.0 1026.0,321.5 1035.0,330.0 1046.0,340.0 1053.0,345.0 1060.0,348.0 1070.0,348.5 1076.0,351.5 1081.0,356.0 1087.0,356.0 1094.0,359.5 1109.0,359.5 1112.0,356.5 1116.5,362.0 1112.0,363.0 1118.0,370.0 1128.0,380.0 1140.5,390.0 1140.5,399.0 1139.5,403.0 1141.5,409.0 1149.0,412.5 1154.0,409.0 1158.0,413.0 1167.0,418.0 1172.0,423.0 1171.0,430.0 1178.0,432.0 1182.0,435.5 1186.0,434.0 1196.0,436.0 1201.0,438.0 1205.0,442.0 1212.0,443.0 1213.5,451.0 1225.0,447.5 1234.0,445.0 1234.0,418.0 1225.0,421.0 1206.0,427.0 1200.0,423.5 1194.5,423.0 1192.0,416.5 1185.0,412.0 1180.0,408.0 1176.0,401.0 1172.0,395.0 1169.5,389.5 1171.5,384.0 1172.0,374.0 1174.0,366.0 1174.5,350.0 1178.5,343.0 1178.5,333.0 1176.0,329.5 1170.0,327.0 1163.0,320.5 1152.0,317.5 1144.0,319.0 1137.5,317.5 1130.0,320.0 1122.0,321.5 1113.0,319.0 1104.5,322.5 1092.5,316.5 1100.0,310.0 1103.0,301.0 1103.5,288.0 1103.5,280.0"/>
<polygon points="1234.0,559.0 1225.0,561.0 1221.3,562.4 1219.3,570.8 1213.5,574.0 1215.4,582.5 1214.8,592.3 1212.8,593.6 1220.0,597.5 1225.0,604.0 1228.0,607.5 1225.0,610.5 1215.4,615.7 1207.0,622.8 1207.6,630.6 1210.9,638.4 1214.8,643.6 1209.6,648.8 1218.0,654.0 1225.0,658.0 1234.0,662.0"/>
<polygon points="1055.3,557.3 1059.2,562.2 1064.4,569.9 1059.2,574.8 1054.6,572.3 1058.5,568.8 1054.3,565.0" stroke-width="1.4"/>
</g>
<polygon points="1226.0,434.0 1220.0,436.0 1221.0,440.0 1226.0,443.5" fill="#fff" stroke="#000" stroke-width="1"/>
</g>
<g stroke="#222" stroke-width="1.1" stroke-dasharray="1.1 2.9" fill="none">
<line x1="178" y1="332" x2="1225" y2="332"/>
<line x1="178" y1="408.3" x2="1225" y2="408.3"/>
<line x1="178" y1="483.7" x2="1225" y2="483.7"/>
<line x1="178" y1="558.8" x2="1225" y2="558.8"/>
<line x1="178" y1="634" x2="1225" y2="634"/>
<line x1="401.155" y1="288" x2="401.155" y2="677"/>
<line x1="626.44" y1="288" x2="626.44" y2="677"/>
<line x1="851.725" y1="288" x2="851.725" y2="677"/>
<line x1="1077.01" y1="288" x2="1077.01" y2="677"/>
</g>
<rect x="176" y="286" width="1051" height="393" fill="none" stroke="#000" stroke-width="4" stroke-linejoin="round"/>
<g stroke="#000" stroke-width="4" fill="none">
<line x1="178" y1="332" x2="186.4" y2="332"/>
<line x1="1216.6" y1="332" x2="1225" y2="332"/>
<line x1="178" y1="408.3" x2="186.4" y2="408.3"/>
<line x1="1216.6" y1="408.3" x2="1225" y2="408.3"/>
<line x1="178" y1="483.7" x2="186.4" y2="483.7"/>
<line x1="1216.6" y1="483.7" x2="1225" y2="483.7"/>
<line x1="178" y1="558.8" x2="186.4" y2="558.8"/>
<line x1="1216.6" y1="558.8" x2="1225" y2="558.8"/>
<line x1="178" y1="634" x2="186.4" y2="634"/>
<line x1="1216.6" y1="634" x2="1225" y2="634"/>
<line x1="401.155" y1="288" x2="401.155" y2="296.3"/>
<line x1="401.155" y1="668.7" x2="401.155" y2="677"/>
<line x1="626.44" y1="288" x2="626.44" y2="296.3"/>
<line x1="626.44" y1="668.7" x2="626.44" y2="677"/>
<line x1="851.725" y1="288" x2="851.725" y2="296.3"/>
<line x1="851.725" y1="668.7" x2="851.725" y2="677"/>
<line x1="1077.01" y1="288" x2="1077.01" y2="296.3"/>
<line x1="1077.01" y1="668.7" x2="1077.01" y2="677"/>
</g>
<text x="172" y="341.9" font-size="17.4" text-anchor="end" fill="#000">15<tspan dy="-7.9" font-size="13.6">o</tspan><tspan dy="7.9">N</tspan></text>
<text x="172" y="418.2" font-size="17.4" text-anchor="end" fill="#000">10<tspan dy="-7.9" font-size="13.6">o</tspan><tspan dy="7.9">N</tspan></text>
<text x="172" y="493.6" font-size="17.4" text-anchor="end" fill="#000">5<tspan dy="-7.9" font-size="13.6">o</tspan><tspan dy="7.9">N</tspan></text>
<text x="166.6" y="568.7" font-size="17.4" text-anchor="end" fill="#000">0<tspan dy="-7.9" font-size="13.6">o</tspan><tspan dy="7.9"></tspan></text>
<text x="172" y="643.9" font-size="17.4" text-anchor="end" fill="#000">5<tspan dy="-7.9" font-size="13.6">o</tspan><tspan dy="7.9">S</tspan></text>
<text x="176.47" y="701.8" font-size="17.4" text-anchor="middle" fill="#000">150<tspan dy="-7.9" font-size="13.6">o</tspan><tspan dy="7.9">W</tspan></text>
<text x="401.755" y="701.8" font-size="17.4" text-anchor="middle" fill="#000">135<tspan dy="-7.9" font-size="13.6">o</tspan><tspan dy="7.9">W</tspan></text>
<text x="627.04" y="701.8" font-size="17.4" text-anchor="middle" fill="#000">120<tspan dy="-7.9" font-size="13.6">o</tspan><tspan dy="7.9">W</tspan></text>
<text x="852.325" y="701.8" font-size="17.4" text-anchor="middle" fill="#000">105<tspan dy="-7.9" font-size="13.6">o</tspan><tspan dy="7.9">W</tspan></text>
<text x="1077.61" y="701.8" font-size="17.4" text-anchor="middle" fill="#000">90<tspan dy="-7.9" font-size="13.6">o</tspan><tspan dy="7.9">W</tspan></text>
<text id="ttl" x="706.7" y="235" font-size="31.3" font-weight="bold" style="font-kerning:none" text-anchor="middle" fill="#000">AVHRR Zonal Sea Surface Temperature Gradient</text>
<text x="702" y="275" font-size="25.05" font-weight="bold" text-anchor="middle" fill="#000">2011-11-04</text>
<rect x="174.5" y="711.5" width="1050" height="19" fill="url(#cb)" stroke="#262626" stroke-width="1"/>
<g stroke="#262626" stroke-width="1" shape-rendering="crispEdges">
<line x1="349.5" y1="720" x2="349.5" y2="730.5"/>
<line x1="524.5" y1="720" x2="524.5" y2="730.5"/>
<line x1="699.5" y1="720" x2="699.5" y2="730.5"/>
<line x1="874.5" y1="720" x2="874.5" y2="730.5"/>
<line x1="1049.5" y1="720" x2="1049.5" y2="730.5"/>
</g>
<text x="174.2" y="755.2" font-size="17" text-anchor="middle" fill="#262626">-0.03</text>
<text x="349.2" y="755.2" font-size="17" text-anchor="middle" fill="#262626">-0.02</text>
<text x="524.2" y="755.2" font-size="17" text-anchor="middle" fill="#262626">-0.01</text>
<text x="700.1" y="755.2" font-size="17" text-anchor="middle" fill="#262626">0</text>
<text x="875.1" y="755.2" font-size="17" text-anchor="middle" fill="#262626">0.01</text>
<text x="1050.1" y="755.2" font-size="17" text-anchor="middle" fill="#262626">0.02</text>
<text x="1225.1" y="755.2" font-size="17" text-anchor="middle" fill="#262626">0.03</text>
<text x="700.2" y="779.4" font-size="16.7" text-anchor="middle" fill="#262626"><tspan font-size="19" dy="0.6">°</tspan><tspan dy="-0.6">C/km</tspan></text>
</svg>
</body></html>
